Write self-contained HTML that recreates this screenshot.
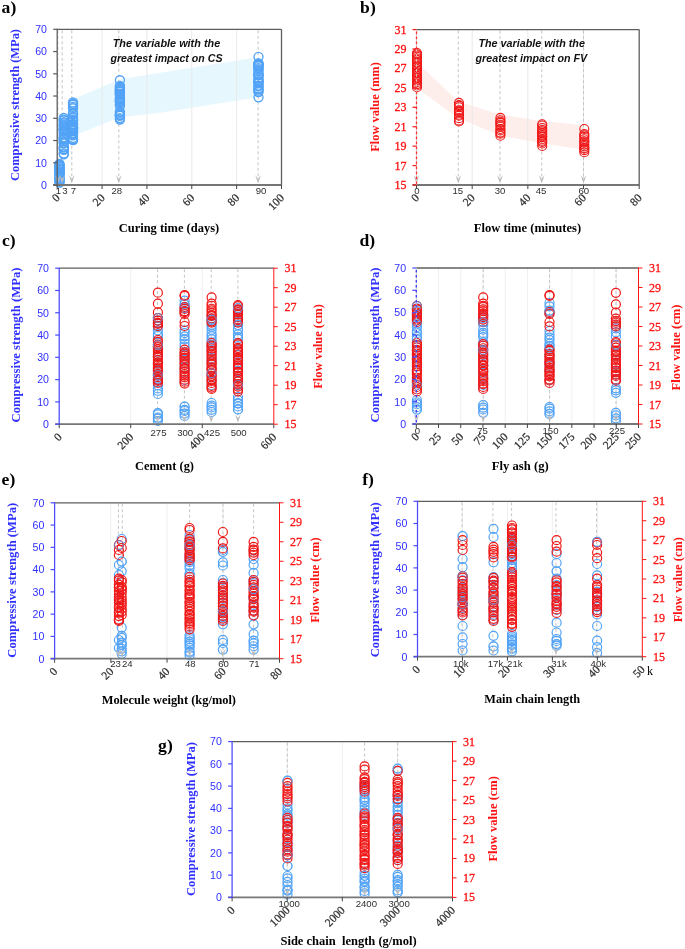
<!DOCTYPE html>
<html><head><meta charset="utf-8"><style>
html,body{margin:0;padding:0;background:#fff;}
body{width:685px;height:949px;overflow:hidden;}
svg{display:block;will-change:transform;}
text{white-space:pre;}
</style></head><body>
<svg width="685" height="949" viewBox="0 0 685 949">
<rect width="685" height="949" fill="#fff"/>
<path d="M72.9 99.36 L120 79.35 L160.38 72.67 L259.07 57.1 L259.07 97.14 L160.38 112.71 L120 117.16 L72.9 136.07 Z" fill="#e6f7fe"/>
<line x1="102.06" y1="29.3" x2="102.06" y2="185" stroke="#e9e9e9" stroke-width="1"/>
<line x1="146.92" y1="29.3" x2="146.92" y2="185" stroke="#e9e9e9" stroke-width="1"/>
<line x1="191.78" y1="29.3" x2="191.78" y2="185" stroke="#e9e9e9" stroke-width="1"/>
<line x1="236.64" y1="29.3" x2="236.64" y2="185" stroke="#e9e9e9" stroke-width="1"/>
<line x1="57.8" y1="30.3" x2="57.8" y2="179" stroke="#c4c4c4" stroke-width="1" stroke-dasharray="3 2.5"/>
<line x1="62.2" y1="30.3" x2="62.2" y2="179" stroke="#c4c4c4" stroke-width="1" stroke-dasharray="3 2.5"/>
<line x1="71.8" y1="30.3" x2="71.8" y2="179" stroke="#c4c4c4" stroke-width="1" stroke-dasharray="3 2.5"/>
<line x1="118.8" y1="30.3" x2="118.8" y2="179" stroke="#c4c4c4" stroke-width="1" stroke-dasharray="3 2.5"/>
<line x1="258.1" y1="30.3" x2="258.1" y2="179" stroke="#c4c4c4" stroke-width="1" stroke-dasharray="3 2.5"/>
<text x="58.3" y="194.2" font-family="'Liberation Sans', sans-serif" font-size="9.6" fill="#2e2e2e" text-anchor="middle">1</text>
<text x="65" y="194.2" font-family="'Liberation Sans', sans-serif" font-size="9.6" fill="#2e2e2e" text-anchor="middle">3</text>
<text x="73.4" y="194.2" font-family="'Liberation Sans', sans-serif" font-size="9.6" fill="#2e2e2e" text-anchor="middle">7</text>
<text x="116.8" y="194.2" font-family="'Liberation Sans', sans-serif" font-size="9.6" fill="#2e2e2e" text-anchor="middle">28</text>
<text x="261" y="194.2" font-family="'Liberation Sans', sans-serif" font-size="9.6" fill="#2e2e2e" text-anchor="middle">90</text>
<g fill="none" stroke="#52a3f7" stroke-width="1.35">
<circle cx="59.5" cy="164" r="4.5"/>
<circle cx="59.5" cy="182.5" r="4.5"/>
<circle cx="59.5" cy="164.74" r="4.5"/>
<circle cx="59.5" cy="165.49" r="4.5"/>
<circle cx="59.5" cy="166.76" r="4.5"/>
<circle cx="59.5" cy="167.18" r="4.5"/>
<circle cx="59.5" cy="168.43" r="4.5"/>
<circle cx="59.5" cy="169.18" r="4.5"/>
<circle cx="59.5" cy="169.82" r="4.5"/>
<circle cx="59.5" cy="171.05" r="4.5"/>
<circle cx="59.5" cy="171.56" r="4.5"/>
<circle cx="59.5" cy="172.76" r="4.5"/>
<circle cx="59.5" cy="173.35" r="4.5"/>
<circle cx="59.5" cy="174.25" r="4.5"/>
<circle cx="59.5" cy="175.39" r="4.5"/>
<circle cx="59.5" cy="176.59" r="4.5"/>
<circle cx="59.5" cy="176.92" r="4.5"/>
<circle cx="59.5" cy="177.88" r="4.5"/>
<circle cx="59.5" cy="179.08" r="4.5"/>
<circle cx="59.5" cy="180.21" r="4.5"/>
<circle cx="59.5" cy="180.8" r="4.5"/>
<circle cx="59.5" cy="181.54" r="4.5"/>
<circle cx="63.8" cy="118" r="4.5"/>
<circle cx="63.8" cy="154.3" r="4.5"/>
<circle cx="63.8" cy="153.44" r="4.5"/>
<circle cx="63.8" cy="119.69" r="4.5"/>
<circle cx="63.8" cy="149.16" r="4.5"/>
<circle cx="63.8" cy="128.51" r="4.5"/>
<circle cx="63.8" cy="123.24" r="4.5"/>
<circle cx="63.8" cy="122.28" r="4.5"/>
<circle cx="63.8" cy="129.2" r="4.5"/>
<circle cx="63.8" cy="147.63" r="4.5"/>
<circle cx="63.8" cy="124.56" r="4.5"/>
<circle cx="63.8" cy="139.11" r="4.5"/>
<circle cx="63.8" cy="141.19" r="4.5"/>
<circle cx="63.8" cy="131.52" r="4.5"/>
<circle cx="63.8" cy="137.88" r="4.5"/>
<circle cx="63.8" cy="120.28" r="4.5"/>
<circle cx="63.8" cy="120.16" r="4.5"/>
<circle cx="63.8" cy="125.48" r="4.5"/>
<circle cx="63.8" cy="142.7" r="4.5"/>
<circle cx="63.8" cy="133.52" r="4.5"/>
<circle cx="63.8" cy="129.4" r="4.5"/>
<circle cx="63.8" cy="139.26" r="4.5"/>
<circle cx="63.8" cy="134.45" r="4.5"/>
<circle cx="63.8" cy="128.88" r="4.5"/>
<circle cx="63.8" cy="146.84" r="4.5"/>
<circle cx="63.8" cy="143.37" r="4.5"/>
<circle cx="63.8" cy="126.86" r="4.5"/>
<circle cx="63.8" cy="138.85" r="4.5"/>
<circle cx="63.8" cy="137.06" r="4.5"/>
<circle cx="63.8" cy="149.77" r="4.5"/>
<circle cx="73" cy="102.5" r="4.5"/>
<circle cx="73" cy="140" r="4.5"/>
<circle cx="73" cy="129.85" r="4.5"/>
<circle cx="73" cy="113.3" r="4.5"/>
<circle cx="73" cy="139.26" r="4.5"/>
<circle cx="73" cy="106.93" r="4.5"/>
<circle cx="73" cy="118.18" r="4.5"/>
<circle cx="73" cy="130.89" r="4.5"/>
<circle cx="73" cy="108.2" r="4.5"/>
<circle cx="73" cy="120.84" r="4.5"/>
<circle cx="73" cy="103.97" r="4.5"/>
<circle cx="73" cy="127.56" r="4.5"/>
<circle cx="73" cy="131.17" r="4.5"/>
<circle cx="73" cy="123.99" r="4.5"/>
<circle cx="73" cy="135.33" r="4.5"/>
<circle cx="73" cy="114.27" r="4.5"/>
<circle cx="73" cy="128.57" r="4.5"/>
<circle cx="73" cy="124.79" r="4.5"/>
<circle cx="73" cy="124.25" r="4.5"/>
<circle cx="73" cy="119.61" r="4.5"/>
<circle cx="73" cy="134" r="4.5"/>
<circle cx="73" cy="137.93" r="4.5"/>
<circle cx="73" cy="120.28" r="4.5"/>
<circle cx="73" cy="127.41" r="4.5"/>
<circle cx="73" cy="104.78" r="4.5"/>
<circle cx="73" cy="128.81" r="4.5"/>
<circle cx="73" cy="126.77" r="4.5"/>
<circle cx="73" cy="139.74" r="4.5"/>
<circle cx="73" cy="133.32" r="4.5"/>
<circle cx="73" cy="113.17" r="4.5"/>
<circle cx="73" cy="116.97" r="4.5"/>
<circle cx="73" cy="127.57" r="4.5"/>
<circle cx="119.9" cy="80.2" r="4.5"/>
<circle cx="119.9" cy="86" r="4.5"/>
<circle cx="119.9" cy="119.5" r="4.5"/>
<circle cx="119.9" cy="86.76" r="4.5"/>
<circle cx="119.9" cy="101.47" r="4.5"/>
<circle cx="119.9" cy="91.63" r="4.5"/>
<circle cx="119.9" cy="89.92" r="4.5"/>
<circle cx="119.9" cy="87.97" r="4.5"/>
<circle cx="119.9" cy="111.74" r="4.5"/>
<circle cx="119.9" cy="90.33" r="4.5"/>
<circle cx="119.9" cy="94.3" r="4.5"/>
<circle cx="119.9" cy="99.1" r="4.5"/>
<circle cx="119.9" cy="115.19" r="4.5"/>
<circle cx="119.9" cy="88.7" r="4.5"/>
<circle cx="119.9" cy="101.05" r="4.5"/>
<circle cx="119.9" cy="104.41" r="4.5"/>
<circle cx="119.9" cy="115.59" r="4.5"/>
<circle cx="119.9" cy="113.45" r="4.5"/>
<circle cx="119.9" cy="114.94" r="4.5"/>
<circle cx="119.9" cy="95.33" r="4.5"/>
<circle cx="119.9" cy="99.91" r="4.5"/>
<circle cx="119.9" cy="98.02" r="4.5"/>
<circle cx="119.9" cy="115.62" r="4.5"/>
<circle cx="119.9" cy="118.08" r="4.5"/>
<circle cx="119.9" cy="91.06" r="4.5"/>
<circle cx="119.9" cy="91.9" r="4.5"/>
<circle cx="119.9" cy="93.77" r="4.5"/>
<circle cx="119.9" cy="93.82" r="4.5"/>
<circle cx="119.9" cy="102.25" r="4.5"/>
<circle cx="119.9" cy="105.74" r="4.5"/>
<circle cx="258.5" cy="56.8" r="4.5"/>
<circle cx="258.5" cy="63.5" r="4.5"/>
<circle cx="258.5" cy="92" r="4.5"/>
<circle cx="258.5" cy="70.99" r="4.5"/>
<circle cx="258.5" cy="63.62" r="4.5"/>
<circle cx="258.5" cy="75.44" r="4.5"/>
<circle cx="258.5" cy="74.02" r="4.5"/>
<circle cx="258.5" cy="79.64" r="4.5"/>
<circle cx="258.5" cy="90.66" r="4.5"/>
<circle cx="258.5" cy="83.18" r="4.5"/>
<circle cx="258.5" cy="78.19" r="4.5"/>
<circle cx="258.5" cy="81.1" r="4.5"/>
<circle cx="258.5" cy="82.77" r="4.5"/>
<circle cx="258.5" cy="65.04" r="4.5"/>
<circle cx="258.5" cy="89.14" r="4.5"/>
<circle cx="258.5" cy="85.73" r="4.5"/>
<circle cx="258.5" cy="88.42" r="4.5"/>
<circle cx="258.5" cy="86.24" r="4.5"/>
<circle cx="258.5" cy="74.68" r="4.5"/>
<circle cx="258.5" cy="74.87" r="4.5"/>
<circle cx="258.5" cy="66.45" r="4.5"/>
<circle cx="258.5" cy="81.58" r="4.5"/>
<circle cx="258.5" cy="65.27" r="4.5"/>
<circle cx="258.5" cy="65.42" r="4.5"/>
<circle cx="258.5" cy="69.45" r="4.5"/>
<circle cx="258.5" cy="68.13" r="4.5"/>
<circle cx="258.5" cy="97.3" r="4.5"/>
</g>
<path d="M54.9 175L57.8 178.7L60.7 175L57.8 183.5Z" fill="#bdbdbd"/>
<path d="M59.3 175L62.2 178.7L65.1 175L62.2 183.5Z" fill="#bdbdbd"/>
<path d="M68.9 175L71.8 178.7L74.7 175L71.8 183.5Z" fill="#bdbdbd"/>
<path d="M115.9 175L118.8 178.7L121.7 175L118.8 183.5Z" fill="#bdbdbd"/>
<path d="M255.2 175L258.1 178.7L261 175L258.1 183.5Z" fill="#bdbdbd"/>
<line x1="57.2" y1="29.3" x2="281.5" y2="29.3" stroke="#5e5e5e" stroke-width="1.3"/>
<line x1="281.5" y1="29.3" x2="281.5" y2="185" stroke="#5e5e5e" stroke-width="1.3"/>
<line x1="53.2" y1="185" x2="281.5" y2="185" stroke="#767676" stroke-width="1.8"/>
<line x1="57.2" y1="185" x2="57.2" y2="189" stroke="#444444" stroke-width="1"/>
<line x1="102.06" y1="185" x2="102.06" y2="189" stroke="#444444" stroke-width="1"/>
<line x1="146.92" y1="185" x2="146.92" y2="189" stroke="#444444" stroke-width="1"/>
<line x1="191.78" y1="185" x2="191.78" y2="189" stroke="#444444" stroke-width="1"/>
<line x1="236.64" y1="185" x2="236.64" y2="189" stroke="#444444" stroke-width="1"/>
<line x1="281.5" y1="185" x2="281.5" y2="189" stroke="#444444" stroke-width="1"/>
<text x="60.6" y="198.5" font-family="'Liberation Serif', serif" font-size="11.5" fill="#2e2e2e" text-anchor="end" transform="rotate(-45 60.6 198.5)" stroke="#2e2e2e" stroke-width="0.25">0</text>
<text x="105.46" y="198.5" font-family="'Liberation Serif', serif" font-size="11.5" fill="#2e2e2e" text-anchor="end" transform="rotate(-45 105.46 198.5)" stroke="#2e2e2e" stroke-width="0.25">20</text>
<text x="150.32" y="198.5" font-family="'Liberation Serif', serif" font-size="11.5" fill="#2e2e2e" text-anchor="end" transform="rotate(-45 150.32 198.5)" stroke="#2e2e2e" stroke-width="0.25">40</text>
<text x="195.18" y="198.5" font-family="'Liberation Serif', serif" font-size="11.5" fill="#2e2e2e" text-anchor="end" transform="rotate(-45 195.18 198.5)" stroke="#2e2e2e" stroke-width="0.25">60</text>
<text x="240.04" y="198.5" font-family="'Liberation Serif', serif" font-size="11.5" fill="#2e2e2e" text-anchor="end" transform="rotate(-45 240.04 198.5)" stroke="#2e2e2e" stroke-width="0.25">80</text>
<text x="284.9" y="198.5" font-family="'Liberation Serif', serif" font-size="11.5" fill="#2e2e2e" text-anchor="end" transform="rotate(-45 284.9 198.5)" stroke="#2e2e2e" stroke-width="0.25">100</text>
<line x1="57.2" y1="28.8" x2="57.2" y2="185" stroke="#5a5a5a" stroke-width="1.25"/>
<line x1="53.2" y1="185" x2="57.2" y2="185" stroke="#5a5a5a" stroke-width="1.2"/>
<text x="47" y="188.8" font-family="'Liberation Sans', sans-serif" font-size="10.6" fill="#3030ff" text-anchor="end">0</text>
<line x1="53.2" y1="162.76" x2="57.2" y2="162.76" stroke="#5a5a5a" stroke-width="1.2"/>
<text x="47" y="166.56" font-family="'Liberation Sans', sans-serif" font-size="10.6" fill="#3030ff" text-anchor="end">10</text>
<line x1="53.2" y1="140.51" x2="57.2" y2="140.51" stroke="#5a5a5a" stroke-width="1.2"/>
<text x="47" y="144.31" font-family="'Liberation Sans', sans-serif" font-size="10.6" fill="#3030ff" text-anchor="end">20</text>
<line x1="53.2" y1="118.27" x2="57.2" y2="118.27" stroke="#5a5a5a" stroke-width="1.2"/>
<text x="47" y="122.07" font-family="'Liberation Sans', sans-serif" font-size="10.6" fill="#3030ff" text-anchor="end">30</text>
<line x1="53.2" y1="96.03" x2="57.2" y2="96.03" stroke="#5a5a5a" stroke-width="1.2"/>
<text x="47" y="99.83" font-family="'Liberation Sans', sans-serif" font-size="10.6" fill="#3030ff" text-anchor="end">40</text>
<line x1="53.2" y1="73.79" x2="57.2" y2="73.79" stroke="#5a5a5a" stroke-width="1.2"/>
<text x="47" y="77.59" font-family="'Liberation Sans', sans-serif" font-size="10.6" fill="#3030ff" text-anchor="end">50</text>
<line x1="53.2" y1="51.54" x2="57.2" y2="51.54" stroke="#5a5a5a" stroke-width="1.2"/>
<text x="47" y="55.34" font-family="'Liberation Sans', sans-serif" font-size="10.6" fill="#3030ff" text-anchor="end">60</text>
<line x1="53.2" y1="29.3" x2="57.2" y2="29.3" stroke="#5a5a5a" stroke-width="1.2"/>
<text x="47" y="33.1" font-family="'Liberation Sans', sans-serif" font-size="10.6" fill="#3030ff" text-anchor="end">70</text>
<text x="112.7" y="46.6" font-family="'Liberation Sans', sans-serif" font-size="11.3" fill="#111" font-weight="bold" font-style="italic" textLength="107.5" lengthAdjust="spacingAndGlyphs">The variable with the</text>
<text x="110.5" y="61.5" font-family="'Liberation Sans', sans-serif" font-size="11.3" fill="#111" font-weight="bold" font-style="italic" textLength="112" lengthAdjust="spacingAndGlyphs">greatest impact on CS</text>
<text x="18.6" y="105" font-family="'Liberation Serif', serif" font-size="12.5" fill="#3030ff" text-anchor="middle" font-weight="bold" transform="rotate(-90 18.6 105)" textLength="152" lengthAdjust="spacingAndGlyphs">Compressive strength (MPa)</text>
<text x="168.95" y="231.7" font-family="'Liberation Serif', serif" font-size="12.5" fill="#000" text-anchor="middle" font-weight="bold" textLength="100.5" lengthAdjust="spacingAndGlyphs">Curing time (days)</text>
<text x="1.6" y="12.6" font-family="'Liberation Serif', serif" font-size="17.6" fill="#000" font-weight="bold">a)</text>
<path d="M416.5 61.65 L458.26 101.47 L500.01 114.58 L541.77 120.9 L583.53 125.27 L583.53 149.55 L541.77 143.24 L500.01 135.47 L458.26 117.98 L416.5 87.88 Z" fill="#fdeeeb"/>
<line x1="472.18" y1="29.6" x2="472.18" y2="185" stroke="#e9e9e9" stroke-width="1"/>
<line x1="527.85" y1="29.6" x2="527.85" y2="185" stroke="#e9e9e9" stroke-width="1"/>
<line x1="583.53" y1="29.6" x2="583.53" y2="185" stroke="#e9e9e9" stroke-width="1"/>
<line x1="416.5" y1="30.6" x2="416.5" y2="179" stroke="#c4c4c4" stroke-width="1" stroke-dasharray="3 2.5"/>
<line x1="458.26" y1="30.6" x2="458.26" y2="179" stroke="#c4c4c4" stroke-width="1" stroke-dasharray="3 2.5"/>
<line x1="500.01" y1="30.6" x2="500.01" y2="179" stroke="#c4c4c4" stroke-width="1" stroke-dasharray="3 2.5"/>
<line x1="541.77" y1="30.6" x2="541.77" y2="179" stroke="#c4c4c4" stroke-width="1" stroke-dasharray="3 2.5"/>
<line x1="583.53" y1="30.6" x2="583.53" y2="179" stroke="#c4c4c4" stroke-width="1" stroke-dasharray="3 2.5"/>
<text x="416.9" y="194" font-family="'Liberation Sans', sans-serif" font-size="9.6" fill="#2e2e2e" text-anchor="middle">0</text>
<text x="457.8" y="194" font-family="'Liberation Sans', sans-serif" font-size="9.6" fill="#2e2e2e" text-anchor="middle">15</text>
<text x="500" y="194" font-family="'Liberation Sans', sans-serif" font-size="9.6" fill="#2e2e2e" text-anchor="middle">30</text>
<text x="541" y="194" font-family="'Liberation Sans', sans-serif" font-size="9.6" fill="#2e2e2e" text-anchor="middle">45</text>
<text x="583.8" y="194" font-family="'Liberation Sans', sans-serif" font-size="9.6" fill="#2e2e2e" text-anchor="middle">60</text>
<g fill="none" stroke="#f01818" stroke-width="1.1">
<circle cx="417" cy="53" r="4.5"/>
<circle cx="417" cy="87.3" r="4.5"/>
<circle cx="417" cy="54.28" r="4.5"/>
<circle cx="417" cy="55.38" r="4.5"/>
<circle cx="417" cy="56.8" r="4.5"/>
<circle cx="417" cy="58.5" r="4.5"/>
<circle cx="417" cy="59.92" r="4.5"/>
<circle cx="417" cy="61.76" r="4.5"/>
<circle cx="417" cy="62.8" r="4.5"/>
<circle cx="417" cy="65.43" r="4.5"/>
<circle cx="417" cy="66.57" r="4.5"/>
<circle cx="417" cy="67.44" r="4.5"/>
<circle cx="417" cy="69.07" r="4.5"/>
<circle cx="417" cy="70.69" r="4.5"/>
<circle cx="417" cy="72.2" r="4.5"/>
<circle cx="417" cy="73.37" r="4.5"/>
<circle cx="417" cy="75.84" r="4.5"/>
<circle cx="417" cy="77.52" r="4.5"/>
<circle cx="417" cy="78.31" r="4.5"/>
<circle cx="417" cy="79.82" r="4.5"/>
<circle cx="417" cy="80.78" r="4.5"/>
<circle cx="417" cy="82.29" r="4.5"/>
<circle cx="417" cy="84.11" r="4.5"/>
<circle cx="417" cy="85.49" r="4.5"/>
<circle cx="459" cy="102.9" r="4.5"/>
<circle cx="459" cy="121.5" r="4.5"/>
<circle cx="459" cy="105.09" r="4.5"/>
<circle cx="459" cy="105.77" r="4.5"/>
<circle cx="459" cy="107.25" r="4.5"/>
<circle cx="459" cy="110.35" r="4.5"/>
<circle cx="459" cy="111.4" r="4.5"/>
<circle cx="459" cy="112.51" r="4.5"/>
<circle cx="459" cy="114.8" r="4.5"/>
<circle cx="459" cy="115.71" r="4.5"/>
<circle cx="459" cy="118.16" r="4.5"/>
<circle cx="459" cy="120.54" r="4.5"/>
<circle cx="500.4" cy="117.9" r="4.5"/>
<circle cx="500.4" cy="135.7" r="4.5"/>
<circle cx="500.4" cy="120.26" r="4.5"/>
<circle cx="500.4" cy="121.77" r="4.5"/>
<circle cx="500.4" cy="122.86" r="4.5"/>
<circle cx="500.4" cy="124.81" r="4.5"/>
<circle cx="500.4" cy="126.27" r="4.5"/>
<circle cx="500.4" cy="129.02" r="4.5"/>
<circle cx="500.4" cy="130.41" r="4.5"/>
<circle cx="500.4" cy="132.59" r="4.5"/>
<circle cx="500.4" cy="133.65" r="4.5"/>
<circle cx="542.2" cy="124.2" r="4.5"/>
<circle cx="542.2" cy="145.9" r="4.5"/>
<circle cx="542.2" cy="125.45" r="4.5"/>
<circle cx="542.2" cy="128.01" r="4.5"/>
<circle cx="542.2" cy="129.94" r="4.5"/>
<circle cx="542.2" cy="131.41" r="4.5"/>
<circle cx="542.2" cy="133.01" r="4.5"/>
<circle cx="542.2" cy="134.69" r="4.5"/>
<circle cx="542.2" cy="136.24" r="4.5"/>
<circle cx="542.2" cy="137.14" r="4.5"/>
<circle cx="542.2" cy="139.25" r="4.5"/>
<circle cx="542.2" cy="140.68" r="4.5"/>
<circle cx="542.2" cy="141.85" r="4.5"/>
<circle cx="542.2" cy="143.52" r="4.5"/>
<circle cx="584.3" cy="129" r="4.5"/>
<circle cx="584.3" cy="134" r="4.5"/>
<circle cx="584.3" cy="152.2" r="4.5"/>
<circle cx="584.3" cy="135.33" r="4.5"/>
<circle cx="584.3" cy="136.95" r="4.5"/>
<circle cx="584.3" cy="139.25" r="4.5"/>
<circle cx="584.3" cy="141.3" r="4.5"/>
<circle cx="584.3" cy="142.19" r="4.5"/>
<circle cx="584.3" cy="144.58" r="4.5"/>
<circle cx="584.3" cy="146.31" r="4.5"/>
<circle cx="584.3" cy="147.91" r="4.5"/>
<circle cx="584.3" cy="148.69" r="4.5"/>
<circle cx="584.3" cy="150.13" r="4.5"/>
</g>
<path d="M413.6 175L416.5 178.7L419.4 175L416.5 183.5Z" fill="#bdbdbd"/>
<path d="M455.36 175L458.26 178.7L461.16 175L458.26 183.5Z" fill="#bdbdbd"/>
<path d="M497.11 175L500.01 178.7L502.91 175L500.01 183.5Z" fill="#bdbdbd"/>
<path d="M538.87 175L541.77 178.7L544.67 175L541.77 183.5Z" fill="#bdbdbd"/>
<path d="M580.63 175L583.53 178.7L586.43 175L583.53 183.5Z" fill="#bdbdbd"/>
<line x1="416.5" y1="29.6" x2="639.2" y2="29.6" stroke="#5e5e5e" stroke-width="1.3"/>
<line x1="639.2" y1="29.6" x2="639.2" y2="185" stroke="#5e5e5e" stroke-width="1.3"/>
<line x1="412.5" y1="185" x2="639.2" y2="185" stroke="#767676" stroke-width="1.8"/>
<line x1="416.5" y1="185" x2="416.5" y2="189" stroke="#444444" stroke-width="1"/>
<line x1="472.18" y1="185" x2="472.18" y2="189" stroke="#444444" stroke-width="1"/>
<line x1="527.85" y1="185" x2="527.85" y2="189" stroke="#444444" stroke-width="1"/>
<line x1="583.53" y1="185" x2="583.53" y2="189" stroke="#444444" stroke-width="1"/>
<line x1="639.2" y1="185" x2="639.2" y2="189" stroke="#444444" stroke-width="1"/>
<text x="419.9" y="198.5" font-family="'Liberation Serif', serif" font-size="11.5" fill="#2e2e2e" text-anchor="end" transform="rotate(-45 419.9 198.5)" stroke="#2e2e2e" stroke-width="0.25">0</text>
<text x="475.57" y="198.5" font-family="'Liberation Serif', serif" font-size="11.5" fill="#2e2e2e" text-anchor="end" transform="rotate(-45 475.57 198.5)" stroke="#2e2e2e" stroke-width="0.25">20</text>
<text x="531.25" y="198.5" font-family="'Liberation Serif', serif" font-size="11.5" fill="#2e2e2e" text-anchor="end" transform="rotate(-45 531.25 198.5)" stroke="#2e2e2e" stroke-width="0.25">40</text>
<text x="586.93" y="198.5" font-family="'Liberation Serif', serif" font-size="11.5" fill="#2e2e2e" text-anchor="end" transform="rotate(-45 586.93 198.5)" stroke="#2e2e2e" stroke-width="0.25">60</text>
<text x="642.6" y="198.5" font-family="'Liberation Serif', serif" font-size="11.5" fill="#2e2e2e" text-anchor="end" transform="rotate(-45 642.6 198.5)" stroke="#2e2e2e" stroke-width="0.25">80</text>
<line x1="416.5" y1="29.6" x2="416.5" y2="185" stroke="#d4d4d4" stroke-width="1"/>
<line x1="416.5" y1="31.6" x2="416.5" y2="185" stroke="#ff3030" stroke-width="1.3" stroke-dasharray="2.6 2.4"/>
<line x1="412.5" y1="185" x2="416.5" y2="185" stroke="#ff1414" stroke-width="1.2"/>
<text x="406.5" y="189" font-family="'Liberation Serif', serif" font-size="12" fill="#ff1414" text-anchor="end" stroke="#ff1414" stroke-width="0.3">15</text>
<line x1="412.5" y1="165.57" x2="416.5" y2="165.57" stroke="#ff1414" stroke-width="1.2"/>
<text x="406.5" y="169.57" font-family="'Liberation Serif', serif" font-size="12" fill="#ff1414" text-anchor="end" stroke="#ff1414" stroke-width="0.3">17</text>
<line x1="412.5" y1="146.15" x2="416.5" y2="146.15" stroke="#ff1414" stroke-width="1.2"/>
<text x="406.5" y="150.15" font-family="'Liberation Serif', serif" font-size="12" fill="#ff1414" text-anchor="end" stroke="#ff1414" stroke-width="0.3">19</text>
<line x1="412.5" y1="126.72" x2="416.5" y2="126.72" stroke="#ff1414" stroke-width="1.2"/>
<text x="406.5" y="130.72" font-family="'Liberation Serif', serif" font-size="12" fill="#ff1414" text-anchor="end" stroke="#ff1414" stroke-width="0.3">21</text>
<line x1="412.5" y1="107.3" x2="416.5" y2="107.3" stroke="#ff1414" stroke-width="1.2"/>
<text x="406.5" y="111.3" font-family="'Liberation Serif', serif" font-size="12" fill="#ff1414" text-anchor="end" stroke="#ff1414" stroke-width="0.3">23</text>
<line x1="412.5" y1="87.88" x2="416.5" y2="87.88" stroke="#ff1414" stroke-width="1.2"/>
<text x="406.5" y="91.88" font-family="'Liberation Serif', serif" font-size="12" fill="#ff1414" text-anchor="end" stroke="#ff1414" stroke-width="0.3">25</text>
<line x1="412.5" y1="68.45" x2="416.5" y2="68.45" stroke="#ff1414" stroke-width="1.2"/>
<text x="406.5" y="72.45" font-family="'Liberation Serif', serif" font-size="12" fill="#ff1414" text-anchor="end" stroke="#ff1414" stroke-width="0.3">27</text>
<line x1="412.5" y1="49.03" x2="416.5" y2="49.03" stroke="#ff1414" stroke-width="1.2"/>
<text x="406.5" y="53.03" font-family="'Liberation Serif', serif" font-size="12" fill="#ff1414" text-anchor="end" stroke="#ff1414" stroke-width="0.3">29</text>
<line x1="412.5" y1="29.6" x2="416.5" y2="29.6" stroke="#ff1414" stroke-width="1.2"/>
<text x="406.5" y="33.6" font-family="'Liberation Serif', serif" font-size="12" fill="#ff1414" text-anchor="end" stroke="#ff1414" stroke-width="0.3">31</text>
<text x="478.4" y="47.1" font-family="'Liberation Sans', sans-serif" font-size="11.3" fill="#111" font-weight="bold" font-style="italic" textLength="106.5" lengthAdjust="spacingAndGlyphs">The variable with the</text>
<text x="475.6" y="61.8" font-family="'Liberation Sans', sans-serif" font-size="11.3" fill="#111" font-weight="bold" font-style="italic" textLength="111.6" lengthAdjust="spacingAndGlyphs">greatest impact on FV</text>
<text x="379.3" y="107" font-family="'Liberation Serif', serif" font-size="12.5" fill="#ff1414" text-anchor="middle" font-weight="bold" transform="rotate(-90 379.3 107)" textLength="89.7" lengthAdjust="spacingAndGlyphs">Flow value (mm)</text>
<text x="527.45" y="232.3" font-family="'Liberation Serif', serif" font-size="12.5" fill="#000" text-anchor="middle" font-weight="bold" textLength="107.3" lengthAdjust="spacingAndGlyphs">Flow time (minutes)</text>
<text x="360.1" y="12.6" font-family="'Liberation Serif', serif" font-size="17.6" fill="#000" font-weight="bold">b)</text>
<line x1="130.73" y1="268.2" x2="130.73" y2="424.2" stroke="#efefef" stroke-width="1"/>
<line x1="202.27" y1="268.2" x2="202.27" y2="424.2" stroke="#efefef" stroke-width="1"/>
<line x1="157.5" y1="269.2" x2="157.5" y2="418.2" stroke="#c4c4c4" stroke-width="1" stroke-dasharray="3 2.5"/>
<line x1="184.4" y1="269.2" x2="184.4" y2="418.2" stroke="#c4c4c4" stroke-width="1" stroke-dasharray="3 2.5"/>
<line x1="211.2" y1="269.2" x2="211.2" y2="418.2" stroke="#c4c4c4" stroke-width="1" stroke-dasharray="3 2.5"/>
<line x1="237.9" y1="269.2" x2="237.9" y2="418.2" stroke="#c4c4c4" stroke-width="1" stroke-dasharray="3 2.5"/>
<text x="158.5" y="436" font-family="'Liberation Sans', sans-serif" font-size="9.6" fill="#2e2e2e" text-anchor="middle">275</text>
<text x="185.2" y="436" font-family="'Liberation Sans', sans-serif" font-size="9.6" fill="#2e2e2e" text-anchor="middle">300</text>
<text x="212" y="436" font-family="'Liberation Sans', sans-serif" font-size="9.6" fill="#2e2e2e" text-anchor="middle">425</text>
<text x="238.7" y="436" font-family="'Liberation Sans', sans-serif" font-size="9.6" fill="#2e2e2e" text-anchor="middle">500</text>
<g fill="none" stroke="#52a3f7" stroke-width="1.2">
<circle cx="157.9" cy="318" r="4.5"/>
<circle cx="157.9" cy="336" r="4.5"/>
<circle cx="157.9" cy="320.26" r="4.5"/>
<circle cx="157.9" cy="323.18" r="4.5"/>
<circle cx="157.9" cy="326.2" r="4.5"/>
<circle cx="157.9" cy="330.33" r="4.5"/>
<circle cx="157.9" cy="334.08" r="4.5"/>
<circle cx="157.9" cy="345" r="4.5"/>
<circle cx="157.9" cy="380" r="4.5"/>
<circle cx="157.9" cy="352.62" r="4.5"/>
<circle cx="157.9" cy="356.56" r="4.5"/>
<circle cx="157.9" cy="363.3" r="4.5"/>
<circle cx="157.9" cy="369.91" r="4.5"/>
<circle cx="157.9" cy="371.99" r="4.5"/>
<circle cx="157.9" cy="375" r="4.5"/>
<circle cx="157.9" cy="394" r="4.5"/>
<circle cx="157.9" cy="378.62" r="4.5"/>
<circle cx="157.9" cy="382.5" r="4.5"/>
<circle cx="157.9" cy="385.3" r="4.5"/>
<circle cx="157.9" cy="388.38" r="4.5"/>
<circle cx="157.9" cy="390.77" r="4.5"/>
<circle cx="157.9" cy="413" r="4.5"/>
<circle cx="157.9" cy="421" r="4.5"/>
<circle cx="157.9" cy="414.42" r="4.5"/>
<circle cx="157.9" cy="417.52" r="4.5"/>
<circle cx="157.9" cy="418.7" r="4.5"/>
<circle cx="184.6" cy="300.6" r="4.5"/>
<circle cx="184.6" cy="311.6" r="4.5"/>
<circle cx="184.6" cy="304.27" r="4.5"/>
<circle cx="184.6" cy="306.91" r="4.5"/>
<circle cx="184.6" cy="308.13" r="4.5"/>
<circle cx="184.6" cy="330.6" r="4.5"/>
<circle cx="184.6" cy="346.5" r="4.5"/>
<circle cx="184.6" cy="333.07" r="4.5"/>
<circle cx="184.6" cy="336.37" r="4.5"/>
<circle cx="184.6" cy="339.4" r="4.5"/>
<circle cx="184.6" cy="343.57" r="4.5"/>
<circle cx="184.6" cy="355" r="4.5"/>
<circle cx="184.6" cy="380" r="4.5"/>
<circle cx="184.6" cy="359.9" r="4.5"/>
<circle cx="184.6" cy="367.04" r="4.5"/>
<circle cx="184.6" cy="371.67" r="4.5"/>
<circle cx="184.6" cy="406.6" r="4.5"/>
<circle cx="184.6" cy="416" r="4.5"/>
<circle cx="184.6" cy="409.82" r="4.5"/>
<circle cx="184.6" cy="410.99" r="4.5"/>
<circle cx="184.6" cy="413.56" r="4.5"/>
<circle cx="211.6" cy="316" r="4.5"/>
<circle cx="211.6" cy="344.7" r="4.5"/>
<circle cx="211.6" cy="319.6" r="4.5"/>
<circle cx="211.6" cy="320.72" r="4.5"/>
<circle cx="211.6" cy="324.77" r="4.5"/>
<circle cx="211.6" cy="326.83" r="4.5"/>
<circle cx="211.6" cy="329.77" r="4.5"/>
<circle cx="211.6" cy="333.92" r="4.5"/>
<circle cx="211.6" cy="336.11" r="4.5"/>
<circle cx="211.6" cy="339.12" r="4.5"/>
<circle cx="211.6" cy="342.5" r="4.5"/>
<circle cx="211.6" cy="350" r="4.5"/>
<circle cx="211.6" cy="385" r="4.5"/>
<circle cx="211.6" cy="358" r="4.5"/>
<circle cx="211.6" cy="361.37" r="4.5"/>
<circle cx="211.6" cy="368.09" r="4.5"/>
<circle cx="211.6" cy="373.36" r="4.5"/>
<circle cx="211.6" cy="379.23" r="4.5"/>
<circle cx="211.6" cy="403" r="4.5"/>
<circle cx="211.6" cy="412" r="4.5"/>
<circle cx="211.6" cy="405.64" r="4.5"/>
<circle cx="211.6" cy="407.4" r="4.5"/>
<circle cx="211.6" cy="409.82" r="4.5"/>
<circle cx="238" cy="308" r="4.5"/>
<circle cx="238" cy="343" r="4.5"/>
<circle cx="238" cy="310.03" r="4.5"/>
<circle cx="238" cy="313.65" r="4.5"/>
<circle cx="238" cy="316.79" r="4.5"/>
<circle cx="238" cy="319.24" r="4.5"/>
<circle cx="238" cy="321.78" r="4.5"/>
<circle cx="238" cy="325.02" r="4.5"/>
<circle cx="238" cy="329" r="4.5"/>
<circle cx="238" cy="330.07" r="4.5"/>
<circle cx="238" cy="334.39" r="4.5"/>
<circle cx="238" cy="337.01" r="4.5"/>
<circle cx="238" cy="338.82" r="4.5"/>
<circle cx="238" cy="350" r="4.5"/>
<circle cx="238" cy="385" r="4.5"/>
<circle cx="238" cy="354.95" r="4.5"/>
<circle cx="238" cy="362.32" r="4.5"/>
<circle cx="238" cy="367.56" r="4.5"/>
<circle cx="238" cy="371.05" r="4.5"/>
<circle cx="238" cy="381.71" r="4.5"/>
<circle cx="238" cy="397" r="4.5"/>
<circle cx="238" cy="409.5" r="4.5"/>
<circle cx="238" cy="400.15" r="4.5"/>
<circle cx="238" cy="403.06" r="4.5"/>
<circle cx="238" cy="403.61" r="4.5"/>
<circle cx="238" cy="406.47" r="4.5"/>
</g>
<g fill="none" stroke="#f01818" stroke-width="1.2">
<circle cx="157.9" cy="292.7" r="4.5"/>
<circle cx="157.9" cy="303.7" r="4.5"/>
<circle cx="157.9" cy="312.4" r="4.5"/>
<circle cx="157.9" cy="318" r="4.5"/>
<circle cx="157.9" cy="326" r="4.5"/>
<circle cx="157.9" cy="320.54" r="4.5"/>
<circle cx="157.9" cy="322.85" r="4.5"/>
<circle cx="157.9" cy="323.81" r="4.5"/>
<circle cx="157.9" cy="340" r="4.5"/>
<circle cx="157.9" cy="383" r="4.5"/>
<circle cx="157.9" cy="341.78" r="4.5"/>
<circle cx="157.9" cy="344.7" r="4.5"/>
<circle cx="157.9" cy="346.26" r="4.5"/>
<circle cx="157.9" cy="347.24" r="4.5"/>
<circle cx="157.9" cy="349.12" r="4.5"/>
<circle cx="157.9" cy="351.11" r="4.5"/>
<circle cx="157.9" cy="354.39" r="4.5"/>
<circle cx="157.9" cy="356.18" r="4.5"/>
<circle cx="157.9" cy="356.97" r="4.5"/>
<circle cx="157.9" cy="360.12" r="4.5"/>
<circle cx="157.9" cy="362.34" r="4.5"/>
<circle cx="157.9" cy="363.73" r="4.5"/>
<circle cx="157.9" cy="365.15" r="4.5"/>
<circle cx="157.9" cy="367.45" r="4.5"/>
<circle cx="157.9" cy="368.67" r="4.5"/>
<circle cx="157.9" cy="370.42" r="4.5"/>
<circle cx="157.9" cy="374.06" r="4.5"/>
<circle cx="157.9" cy="375.45" r="4.5"/>
<circle cx="157.9" cy="377.18" r="4.5"/>
<circle cx="157.9" cy="379.85" r="4.5"/>
<circle cx="157.9" cy="380.93" r="4.5"/>
<circle cx="184.6" cy="295" r="4.5"/>
<circle cx="184.6" cy="295.8" r="4.5"/>
<circle cx="184.6" cy="307" r="4.5"/>
<circle cx="184.6" cy="314" r="4.5"/>
<circle cx="184.6" cy="308.88" r="4.5"/>
<circle cx="184.6" cy="311.14" r="4.5"/>
<circle cx="184.6" cy="312.12" r="4.5"/>
<circle cx="184.6" cy="322" r="4.5"/>
<circle cx="184.6" cy="326" r="4.5"/>
<circle cx="184.6" cy="349.6" r="4.5"/>
<circle cx="184.6" cy="383.6" r="4.5"/>
<circle cx="184.6" cy="352.35" r="4.5"/>
<circle cx="184.6" cy="353.6" r="4.5"/>
<circle cx="184.6" cy="355.66" r="4.5"/>
<circle cx="184.6" cy="357.64" r="4.5"/>
<circle cx="184.6" cy="358.73" r="4.5"/>
<circle cx="184.6" cy="361.49" r="4.5"/>
<circle cx="184.6" cy="363.03" r="4.5"/>
<circle cx="184.6" cy="364.71" r="4.5"/>
<circle cx="184.6" cy="368.14" r="4.5"/>
<circle cx="184.6" cy="369.01" r="4.5"/>
<circle cx="184.6" cy="371.55" r="4.5"/>
<circle cx="184.6" cy="374.01" r="4.5"/>
<circle cx="184.6" cy="375.7" r="4.5"/>
<circle cx="184.6" cy="377.29" r="4.5"/>
<circle cx="184.6" cy="379.63" r="4.5"/>
<circle cx="184.6" cy="381.7" r="4.5"/>
<circle cx="211.6" cy="297.4" r="4.5"/>
<circle cx="211.6" cy="303.7" r="4.5"/>
<circle cx="211.6" cy="322.6" r="4.5"/>
<circle cx="211.6" cy="305.76" r="4.5"/>
<circle cx="211.6" cy="308.73" r="4.5"/>
<circle cx="211.6" cy="310.38" r="4.5"/>
<circle cx="211.6" cy="312.81" r="4.5"/>
<circle cx="211.6" cy="315.04" r="4.5"/>
<circle cx="211.6" cy="315.85" r="4.5"/>
<circle cx="211.6" cy="318.51" r="4.5"/>
<circle cx="211.6" cy="321.34" r="4.5"/>
<circle cx="211.6" cy="343" r="4.5"/>
<circle cx="211.6" cy="389" r="4.5"/>
<circle cx="211.6" cy="345.61" r="4.5"/>
<circle cx="211.6" cy="346.35" r="4.5"/>
<circle cx="211.6" cy="348.32" r="4.5"/>
<circle cx="211.6" cy="350.9" r="4.5"/>
<circle cx="211.6" cy="352.23" r="4.5"/>
<circle cx="211.6" cy="354.53" r="4.5"/>
<circle cx="211.6" cy="356.23" r="4.5"/>
<circle cx="211.6" cy="359.31" r="4.5"/>
<circle cx="211.6" cy="361.51" r="4.5"/>
<circle cx="211.6" cy="363.71" r="4.5"/>
<circle cx="211.6" cy="364.38" r="4.5"/>
<circle cx="211.6" cy="367.39" r="4.5"/>
<circle cx="211.6" cy="369.29" r="4.5"/>
<circle cx="211.6" cy="370.36" r="4.5"/>
<circle cx="211.6" cy="373.69" r="4.5"/>
<circle cx="211.6" cy="375.84" r="4.5"/>
<circle cx="211.6" cy="376.5" r="4.5"/>
<circle cx="211.6" cy="379.81" r="4.5"/>
<circle cx="211.6" cy="380.82" r="4.5"/>
<circle cx="211.6" cy="382.98" r="4.5"/>
<circle cx="211.6" cy="385.88" r="4.5"/>
<circle cx="211.6" cy="387.6" r="4.5"/>
<circle cx="238" cy="305" r="4.5"/>
<circle cx="238" cy="322.6" r="4.5"/>
<circle cx="238" cy="306.15" r="4.5"/>
<circle cx="238" cy="309.4" r="4.5"/>
<circle cx="238" cy="310.46" r="4.5"/>
<circle cx="238" cy="312.17" r="4.5"/>
<circle cx="238" cy="314.64" r="4.5"/>
<circle cx="238" cy="317.46" r="4.5"/>
<circle cx="238" cy="319.25" r="4.5"/>
<circle cx="238" cy="320.22" r="4.5"/>
<circle cx="238" cy="343" r="4.5"/>
<circle cx="238" cy="391.3" r="4.5"/>
<circle cx="238" cy="344.38" r="4.5"/>
<circle cx="238" cy="347.78" r="4.5"/>
<circle cx="238" cy="349.17" r="4.5"/>
<circle cx="238" cy="351.41" r="4.5"/>
<circle cx="238" cy="352.32" r="4.5"/>
<circle cx="238" cy="354.27" r="4.5"/>
<circle cx="238" cy="357.43" r="4.5"/>
<circle cx="238" cy="358.96" r="4.5"/>
<circle cx="238" cy="360.34" r="4.5"/>
<circle cx="238" cy="363.92" r="4.5"/>
<circle cx="238" cy="365.38" r="4.5"/>
<circle cx="238" cy="367.7" r="4.5"/>
<circle cx="238" cy="368.41" r="4.5"/>
<circle cx="238" cy="371.82" r="4.5"/>
<circle cx="238" cy="372.4" r="4.5"/>
<circle cx="238" cy="375.86" r="4.5"/>
<circle cx="238" cy="377.13" r="4.5"/>
<circle cx="238" cy="378.93" r="4.5"/>
<circle cx="238" cy="381.33" r="4.5"/>
<circle cx="238" cy="384.02" r="4.5"/>
<circle cx="238" cy="384.84" r="4.5"/>
<circle cx="238" cy="386.6" r="4.5"/>
<circle cx="238" cy="389.34" r="4.5"/>
</g>
<g fill="none" stroke="#52a3f7" stroke-width="0.7">
<circle cx="157.9" cy="318" r="4.5"/>
<circle cx="157.9" cy="345" r="4.5"/>
<circle cx="157.9" cy="375" r="4.5"/>
<circle cx="157.9" cy="413" r="4.5"/>
<circle cx="184.6" cy="304.27" r="4.5"/>
<circle cx="184.6" cy="339.4" r="4.5"/>
<circle cx="184.6" cy="406.6" r="4.5"/>
<circle cx="211.6" cy="319.6" r="4.5"/>
<circle cx="211.6" cy="339.12" r="4.5"/>
<circle cx="211.6" cy="373.36" r="4.5"/>
<circle cx="238" cy="308" r="4.5"/>
<circle cx="238" cy="325.02" r="4.5"/>
<circle cx="238" cy="385" r="4.5"/>
<circle cx="238" cy="409.5" r="4.5"/>
</g>
<path d="M154.6 414.2L157.5 417.9L160.4 414.2L157.5 422.7Z" fill="#bdbdbd"/>
<path d="M181.5 414.2L184.4 417.9L187.3 414.2L184.4 422.7Z" fill="#bdbdbd"/>
<path d="M208.3 414.2L211.2 417.9L214.1 414.2L211.2 422.7Z" fill="#bdbdbd"/>
<path d="M235 414.2L237.9 417.9L240.8 414.2L237.9 422.7Z" fill="#bdbdbd"/>
<line x1="59.2" y1="268.2" x2="273.8" y2="268.2" stroke="#5e5e5e" stroke-width="1.3"/>
<line x1="55.2" y1="424.2" x2="273.8" y2="424.2" stroke="#767676" stroke-width="1.8"/>
<line x1="59.2" y1="424.2" x2="59.2" y2="428.2" stroke="#444444" stroke-width="1"/>
<line x1="130.73" y1="424.2" x2="130.73" y2="428.2" stroke="#444444" stroke-width="1"/>
<line x1="202.27" y1="424.2" x2="202.27" y2="428.2" stroke="#444444" stroke-width="1"/>
<line x1="273.8" y1="424.2" x2="273.8" y2="428.2" stroke="#444444" stroke-width="1"/>
<text x="62.6" y="437.7" font-family="'Liberation Serif', serif" font-size="11.5" fill="#2e2e2e" text-anchor="end" transform="rotate(-45 62.6 437.7)" stroke="#2e2e2e" stroke-width="0.25">0</text>
<text x="134.13" y="437.7" font-family="'Liberation Serif', serif" font-size="11.5" fill="#2e2e2e" text-anchor="end" transform="rotate(-45 134.13 437.7)" stroke="#2e2e2e" stroke-width="0.25">200</text>
<text x="205.67" y="437.7" font-family="'Liberation Serif', serif" font-size="11.5" fill="#2e2e2e" text-anchor="end" transform="rotate(-45 205.67 437.7)" stroke="#2e2e2e" stroke-width="0.25">400</text>
<text x="277.2" y="437.7" font-family="'Liberation Serif', serif" font-size="11.5" fill="#2e2e2e" text-anchor="end" transform="rotate(-45 277.2 437.7)" stroke="#2e2e2e" stroke-width="0.25">600</text>
<line x1="59.2" y1="267.7" x2="59.2" y2="424.2" stroke="#4a4aff" stroke-width="1.25"/>
<line x1="55.2" y1="424.2" x2="59.2" y2="424.2" stroke="#4a4aff" stroke-width="1.2"/>
<text x="49" y="428" font-family="'Liberation Sans', sans-serif" font-size="10.6" fill="#3030ff" text-anchor="end">0</text>
<line x1="55.2" y1="401.91" x2="59.2" y2="401.91" stroke="#4a4aff" stroke-width="1.2"/>
<text x="49" y="405.71" font-family="'Liberation Sans', sans-serif" font-size="10.6" fill="#3030ff" text-anchor="end">10</text>
<line x1="55.2" y1="379.63" x2="59.2" y2="379.63" stroke="#4a4aff" stroke-width="1.2"/>
<text x="49" y="383.43" font-family="'Liberation Sans', sans-serif" font-size="10.6" fill="#3030ff" text-anchor="end">20</text>
<line x1="55.2" y1="357.34" x2="59.2" y2="357.34" stroke="#4a4aff" stroke-width="1.2"/>
<text x="49" y="361.14" font-family="'Liberation Sans', sans-serif" font-size="10.6" fill="#3030ff" text-anchor="end">30</text>
<line x1="55.2" y1="335.06" x2="59.2" y2="335.06" stroke="#4a4aff" stroke-width="1.2"/>
<text x="49" y="338.86" font-family="'Liberation Sans', sans-serif" font-size="10.6" fill="#3030ff" text-anchor="end">40</text>
<line x1="55.2" y1="312.77" x2="59.2" y2="312.77" stroke="#4a4aff" stroke-width="1.2"/>
<text x="49" y="316.57" font-family="'Liberation Sans', sans-serif" font-size="10.6" fill="#3030ff" text-anchor="end">50</text>
<line x1="55.2" y1="290.49" x2="59.2" y2="290.49" stroke="#4a4aff" stroke-width="1.2"/>
<text x="49" y="294.29" font-family="'Liberation Sans', sans-serif" font-size="10.6" fill="#3030ff" text-anchor="end">60</text>
<line x1="55.2" y1="268.2" x2="59.2" y2="268.2" stroke="#4a4aff" stroke-width="1.2"/>
<text x="49" y="272" font-family="'Liberation Sans', sans-serif" font-size="10.6" fill="#3030ff" text-anchor="end">70</text>
<line x1="273.8" y1="267.7" x2="273.8" y2="424.2" stroke="#ff1414" stroke-width="1"/>
<line x1="273.8" y1="424.2" x2="277.8" y2="424.2" stroke="#ff1414" stroke-width="1"/>
<text x="284.4" y="428.2" font-family="'Liberation Serif', serif" font-size="12" fill="#ff1414" stroke="#ff1414" stroke-width="0.3">15</text>
<line x1="273.8" y1="404.7" x2="277.8" y2="404.7" stroke="#ff1414" stroke-width="1"/>
<text x="284.4" y="408.7" font-family="'Liberation Serif', serif" font-size="12" fill="#ff1414" stroke="#ff1414" stroke-width="0.3">17</text>
<line x1="273.8" y1="385.2" x2="277.8" y2="385.2" stroke="#ff1414" stroke-width="1"/>
<text x="284.4" y="389.2" font-family="'Liberation Serif', serif" font-size="12" fill="#ff1414" stroke="#ff1414" stroke-width="0.3">19</text>
<line x1="273.8" y1="365.7" x2="277.8" y2="365.7" stroke="#ff1414" stroke-width="1"/>
<text x="284.4" y="369.7" font-family="'Liberation Serif', serif" font-size="12" fill="#ff1414" stroke="#ff1414" stroke-width="0.3">21</text>
<line x1="273.8" y1="346.2" x2="277.8" y2="346.2" stroke="#ff1414" stroke-width="1"/>
<text x="284.4" y="350.2" font-family="'Liberation Serif', serif" font-size="12" fill="#ff1414" stroke="#ff1414" stroke-width="0.3">23</text>
<line x1="273.8" y1="326.7" x2="277.8" y2="326.7" stroke="#ff1414" stroke-width="1"/>
<text x="284.4" y="330.7" font-family="'Liberation Serif', serif" font-size="12" fill="#ff1414" stroke="#ff1414" stroke-width="0.3">25</text>
<line x1="273.8" y1="307.2" x2="277.8" y2="307.2" stroke="#ff1414" stroke-width="1"/>
<text x="284.4" y="311.2" font-family="'Liberation Serif', serif" font-size="12" fill="#ff1414" stroke="#ff1414" stroke-width="0.3">27</text>
<line x1="273.8" y1="287.7" x2="277.8" y2="287.7" stroke="#ff1414" stroke-width="1"/>
<text x="284.4" y="291.7" font-family="'Liberation Serif', serif" font-size="12" fill="#ff1414" stroke="#ff1414" stroke-width="0.3">29</text>
<line x1="273.8" y1="268.2" x2="277.8" y2="268.2" stroke="#ff1414" stroke-width="1"/>
<text x="284.4" y="272.2" font-family="'Liberation Serif', serif" font-size="12" fill="#ff1414" stroke="#ff1414" stroke-width="0.3">31</text>
<text x="20.3" y="345" font-family="'Liberation Serif', serif" font-size="12.5" fill="#3030ff" text-anchor="middle" font-weight="bold" transform="rotate(-90 20.3 345)" textLength="155" lengthAdjust="spacingAndGlyphs">Compressive strength (MPa)</text>
<text x="322" y="346.4" font-family="'Liberation Serif', serif" font-size="12.5" fill="#ff1414" text-anchor="middle" font-weight="bold" transform="rotate(-90 322 346.4)" textLength="84.8" lengthAdjust="spacingAndGlyphs">Flow value (cm)</text>
<text x="164.5" y="470" font-family="'Liberation Serif', serif" font-size="12.5" fill="#000" text-anchor="middle" font-weight="bold" textLength="59" lengthAdjust="spacingAndGlyphs">Cement (g)</text>
<text x="1.9" y="245.8" font-family="'Liberation Serif', serif" font-size="17.6" fill="#000" font-weight="bold">c)</text>
<line x1="438.52" y1="268" x2="438.52" y2="424" stroke="#efefef" stroke-width="1"/>
<line x1="460.74" y1="268" x2="460.74" y2="424" stroke="#efefef" stroke-width="1"/>
<line x1="482.96" y1="268" x2="482.96" y2="424" stroke="#efefef" stroke-width="1"/>
<line x1="505.18" y1="268" x2="505.18" y2="424" stroke="#efefef" stroke-width="1"/>
<line x1="527.4" y1="268" x2="527.4" y2="424" stroke="#efefef" stroke-width="1"/>
<line x1="549.62" y1="268" x2="549.62" y2="424" stroke="#efefef" stroke-width="1"/>
<line x1="571.84" y1="268" x2="571.84" y2="424" stroke="#efefef" stroke-width="1"/>
<line x1="594.06" y1="268" x2="594.06" y2="424" stroke="#efefef" stroke-width="1"/>
<line x1="616.28" y1="268" x2="616.28" y2="424" stroke="#efefef" stroke-width="1"/>
<line x1="416.5" y1="269" x2="416.5" y2="418" stroke="#c4c4c4" stroke-width="1" stroke-dasharray="3 2.5"/>
<line x1="483.2" y1="269" x2="483.2" y2="418" stroke="#c4c4c4" stroke-width="1" stroke-dasharray="3 2.5"/>
<line x1="549.6" y1="269" x2="549.6" y2="418" stroke="#c4c4c4" stroke-width="1" stroke-dasharray="3 2.5"/>
<line x1="616" y1="269" x2="616" y2="418" stroke="#c4c4c4" stroke-width="1" stroke-dasharray="3 2.5"/>
<text x="417.3" y="434" font-family="'Liberation Sans', sans-serif" font-size="9.6" fill="#2e2e2e" text-anchor="middle">0</text>
<text x="482.6" y="434" font-family="'Liberation Sans', sans-serif" font-size="9.6" fill="#2e2e2e" text-anchor="middle">75</text>
<text x="550.5" y="434" font-family="'Liberation Sans', sans-serif" font-size="9.6" fill="#2e2e2e" text-anchor="middle">150</text>
<text x="617" y="434" font-family="'Liberation Sans', sans-serif" font-size="9.6" fill="#2e2e2e" text-anchor="middle">225</text>
<g fill="none" stroke="#52a3f7" stroke-width="1.2">
<circle cx="416.9" cy="306" r="4.5"/>
<circle cx="416.9" cy="343" r="4.5"/>
<circle cx="416.9" cy="308.36" r="4.5"/>
<circle cx="416.9" cy="311.08" r="4.5"/>
<circle cx="416.9" cy="314.31" r="4.5"/>
<circle cx="416.9" cy="317.09" r="4.5"/>
<circle cx="416.9" cy="320.59" r="4.5"/>
<circle cx="416.9" cy="323.98" r="4.5"/>
<circle cx="416.9" cy="327.04" r="4.5"/>
<circle cx="416.9" cy="331.39" r="4.5"/>
<circle cx="416.9" cy="333.17" r="4.5"/>
<circle cx="416.9" cy="336.83" r="4.5"/>
<circle cx="416.9" cy="339.02" r="4.5"/>
<circle cx="416.9" cy="350" r="4.5"/>
<circle cx="416.9" cy="385" r="4.5"/>
<circle cx="416.9" cy="355.03" r="4.5"/>
<circle cx="416.9" cy="359.14" r="4.5"/>
<circle cx="416.9" cy="366.19" r="4.5"/>
<circle cx="416.9" cy="370.79" r="4.5"/>
<circle cx="416.9" cy="380.39" r="4.5"/>
<circle cx="416.9" cy="400" r="4.5"/>
<circle cx="416.9" cy="409.6" r="4.5"/>
<circle cx="416.9" cy="402.51" r="4.5"/>
<circle cx="416.9" cy="404.13" r="4.5"/>
<circle cx="416.9" cy="407.15" r="4.5"/>
<circle cx="483.2" cy="316" r="4.5"/>
<circle cx="483.2" cy="344" r="4.5"/>
<circle cx="483.2" cy="318.15" r="4.5"/>
<circle cx="483.2" cy="322.07" r="4.5"/>
<circle cx="483.2" cy="324.67" r="4.5"/>
<circle cx="483.2" cy="329.74" r="4.5"/>
<circle cx="483.2" cy="332.88" r="4.5"/>
<circle cx="483.2" cy="334.8" r="4.5"/>
<circle cx="483.2" cy="337.06" r="4.5"/>
<circle cx="483.2" cy="342.19" r="4.5"/>
<circle cx="483.2" cy="350" r="4.5"/>
<circle cx="483.2" cy="385" r="4.5"/>
<circle cx="483.2" cy="354.83" r="4.5"/>
<circle cx="483.2" cy="360.91" r="4.5"/>
<circle cx="483.2" cy="364.88" r="4.5"/>
<circle cx="483.2" cy="372.71" r="4.5"/>
<circle cx="483.2" cy="379.03" r="4.5"/>
<circle cx="483.2" cy="405" r="4.5"/>
<circle cx="483.2" cy="412.8" r="4.5"/>
<circle cx="483.2" cy="407.61" r="4.5"/>
<circle cx="483.2" cy="409.5" r="4.5"/>
<circle cx="549.5" cy="303" r="4.5"/>
<circle cx="549.5" cy="313" r="4.5"/>
<circle cx="549.5" cy="306.35" r="4.5"/>
<circle cx="549.5" cy="310.67" r="4.5"/>
<circle cx="549.5" cy="330.8" r="4.5"/>
<circle cx="549.5" cy="348.6" r="4.5"/>
<circle cx="549.5" cy="334.58" r="4.5"/>
<circle cx="549.5" cy="337.6" r="4.5"/>
<circle cx="549.5" cy="339.92" r="4.5"/>
<circle cx="549.5" cy="343.72" r="4.5"/>
<circle cx="549.5" cy="346.12" r="4.5"/>
<circle cx="549.5" cy="355" r="4.5"/>
<circle cx="549.5" cy="380" r="4.5"/>
<circle cx="549.5" cy="362.34" r="4.5"/>
<circle cx="549.5" cy="365.98" r="4.5"/>
<circle cx="549.5" cy="371.11" r="4.5"/>
<circle cx="549.5" cy="407" r="4.5"/>
<circle cx="549.5" cy="413.9" r="4.5"/>
<circle cx="549.5" cy="408.54" r="4.5"/>
<circle cx="549.5" cy="411.31" r="4.5"/>
<circle cx="615.9" cy="326.4" r="4.5"/>
<circle cx="615.9" cy="336.4" r="4.5"/>
<circle cx="615.9" cy="328.46" r="4.5"/>
<circle cx="615.9" cy="332.36" r="4.5"/>
<circle cx="615.9" cy="345" r="4.5"/>
<circle cx="615.9" cy="380" r="4.5"/>
<circle cx="615.9" cy="352.04" r="4.5"/>
<circle cx="615.9" cy="355.12" r="4.5"/>
<circle cx="615.9" cy="363.76" r="4.5"/>
<circle cx="615.9" cy="370.83" r="4.5"/>
<circle cx="615.9" cy="374.13" r="4.5"/>
<circle cx="615.9" cy="388.4" r="4.5"/>
<circle cx="615.9" cy="392.8" r="4.5"/>
<circle cx="615.9" cy="390.37" r="4.5"/>
<circle cx="615.9" cy="412.8" r="4.5"/>
<circle cx="615.9" cy="420.5" r="4.5"/>
<circle cx="615.9" cy="415.32" r="4.5"/>
<circle cx="615.9" cy="418.36" r="4.5"/>
</g>
<g fill="none" stroke="#f01818" stroke-width="1.2">
<circle cx="416.9" cy="306" r="4.5"/>
<circle cx="416.9" cy="322" r="4.5"/>
<circle cx="416.9" cy="308.78" r="4.5"/>
<circle cx="416.9" cy="309.29" r="4.5"/>
<circle cx="416.9" cy="312.57" r="4.5"/>
<circle cx="416.9" cy="313.88" r="4.5"/>
<circle cx="416.9" cy="315.99" r="4.5"/>
<circle cx="416.9" cy="318.6" r="4.5"/>
<circle cx="416.9" cy="319.81" r="4.5"/>
<circle cx="416.9" cy="343" r="4.5"/>
<circle cx="416.9" cy="391.4" r="4.5"/>
<circle cx="416.9" cy="345.03" r="4.5"/>
<circle cx="416.9" cy="347.37" r="4.5"/>
<circle cx="416.9" cy="349.93" r="4.5"/>
<circle cx="416.9" cy="350.78" r="4.5"/>
<circle cx="416.9" cy="353.69" r="4.5"/>
<circle cx="416.9" cy="355.48" r="4.5"/>
<circle cx="416.9" cy="357.36" r="4.5"/>
<circle cx="416.9" cy="358.96" r="4.5"/>
<circle cx="416.9" cy="360.87" r="4.5"/>
<circle cx="416.9" cy="362.36" r="4.5"/>
<circle cx="416.9" cy="364.51" r="4.5"/>
<circle cx="416.9" cy="366.42" r="4.5"/>
<circle cx="416.9" cy="369.65" r="4.5"/>
<circle cx="416.9" cy="370.79" r="4.5"/>
<circle cx="416.9" cy="372.64" r="4.5"/>
<circle cx="416.9" cy="374.51" r="4.5"/>
<circle cx="416.9" cy="377.9" r="4.5"/>
<circle cx="416.9" cy="379.97" r="4.5"/>
<circle cx="416.9" cy="381.63" r="4.5"/>
<circle cx="416.9" cy="382.94" r="4.5"/>
<circle cx="416.9" cy="384.88" r="4.5"/>
<circle cx="416.9" cy="386.99" r="4.5"/>
<circle cx="416.9" cy="389.31" r="4.5"/>
<circle cx="483.2" cy="297.4" r="4.5"/>
<circle cx="483.2" cy="303.7" r="4.5"/>
<circle cx="483.2" cy="322" r="4.5"/>
<circle cx="483.2" cy="305.74" r="4.5"/>
<circle cx="483.2" cy="306.86" r="4.5"/>
<circle cx="483.2" cy="309.37" r="4.5"/>
<circle cx="483.2" cy="311.08" r="4.5"/>
<circle cx="483.2" cy="313.68" r="4.5"/>
<circle cx="483.2" cy="315.06" r="4.5"/>
<circle cx="483.2" cy="317.06" r="4.5"/>
<circle cx="483.2" cy="319.61" r="4.5"/>
<circle cx="483.2" cy="344" r="4.5"/>
<circle cx="483.2" cy="389" r="4.5"/>
<circle cx="483.2" cy="345.55" r="4.5"/>
<circle cx="483.2" cy="348.25" r="4.5"/>
<circle cx="483.2" cy="350.19" r="4.5"/>
<circle cx="483.2" cy="352.64" r="4.5"/>
<circle cx="483.2" cy="354.52" r="4.5"/>
<circle cx="483.2" cy="356.67" r="4.5"/>
<circle cx="483.2" cy="359.02" r="4.5"/>
<circle cx="483.2" cy="360.16" r="4.5"/>
<circle cx="483.2" cy="362.09" r="4.5"/>
<circle cx="483.2" cy="365.35" r="4.5"/>
<circle cx="483.2" cy="365.85" r="4.5"/>
<circle cx="483.2" cy="368.96" r="4.5"/>
<circle cx="483.2" cy="370.85" r="4.5"/>
<circle cx="483.2" cy="371.8" r="4.5"/>
<circle cx="483.2" cy="375.3" r="4.5"/>
<circle cx="483.2" cy="377.45" r="4.5"/>
<circle cx="483.2" cy="379.01" r="4.5"/>
<circle cx="483.2" cy="381.25" r="4.5"/>
<circle cx="483.2" cy="383.44" r="4.5"/>
<circle cx="483.2" cy="384.25" r="4.5"/>
<circle cx="483.2" cy="387" r="4.5"/>
<circle cx="549.5" cy="295" r="4.5"/>
<circle cx="549.5" cy="295.8" r="4.5"/>
<circle cx="549.5" cy="312" r="4.5"/>
<circle cx="549.5" cy="314" r="4.5"/>
<circle cx="549.5" cy="322" r="4.5"/>
<circle cx="549.5" cy="326.4" r="4.5"/>
<circle cx="549.5" cy="349.7" r="4.5"/>
<circle cx="549.5" cy="382.9" r="4.5"/>
<circle cx="549.5" cy="350.96" r="4.5"/>
<circle cx="549.5" cy="354.2" r="4.5"/>
<circle cx="549.5" cy="355.66" r="4.5"/>
<circle cx="549.5" cy="357.74" r="4.5"/>
<circle cx="549.5" cy="359.69" r="4.5"/>
<circle cx="549.5" cy="361.74" r="4.5"/>
<circle cx="549.5" cy="363.35" r="4.5"/>
<circle cx="549.5" cy="364.45" r="4.5"/>
<circle cx="549.5" cy="367.8" r="4.5"/>
<circle cx="549.5" cy="369.67" r="4.5"/>
<circle cx="549.5" cy="371.19" r="4.5"/>
<circle cx="549.5" cy="373.2" r="4.5"/>
<circle cx="549.5" cy="375.37" r="4.5"/>
<circle cx="549.5" cy="376.28" r="4.5"/>
<circle cx="549.5" cy="379.41" r="4.5"/>
<circle cx="549.5" cy="380.51" r="4.5"/>
<circle cx="615.9" cy="292.8" r="4.5"/>
<circle cx="615.9" cy="304.3" r="4.5"/>
<circle cx="615.9" cy="312.7" r="4.5"/>
<circle cx="615.9" cy="318.7" r="4.5"/>
<circle cx="615.9" cy="326.4" r="4.5"/>
<circle cx="615.9" cy="321.09" r="4.5"/>
<circle cx="615.9" cy="322.75" r="4.5"/>
<circle cx="615.9" cy="324.72" r="4.5"/>
<circle cx="615.9" cy="342" r="4.5"/>
<circle cx="615.9" cy="380.7" r="4.5"/>
<circle cx="615.9" cy="343.26" r="4.5"/>
<circle cx="615.9" cy="345.43" r="4.5"/>
<circle cx="615.9" cy="347.66" r="4.5"/>
<circle cx="615.9" cy="350.59" r="4.5"/>
<circle cx="615.9" cy="351.83" r="4.5"/>
<circle cx="615.9" cy="354.35" r="4.5"/>
<circle cx="615.9" cy="355.36" r="4.5"/>
<circle cx="615.9" cy="357.49" r="4.5"/>
<circle cx="615.9" cy="359.91" r="4.5"/>
<circle cx="615.9" cy="362.68" r="4.5"/>
<circle cx="615.9" cy="364.76" r="4.5"/>
<circle cx="615.9" cy="366.76" r="4.5"/>
<circle cx="615.9" cy="368.1" r="4.5"/>
<circle cx="615.9" cy="370.55" r="4.5"/>
<circle cx="615.9" cy="372.49" r="4.5"/>
<circle cx="615.9" cy="374.53" r="4.5"/>
<circle cx="615.9" cy="375.93" r="4.5"/>
<circle cx="615.9" cy="379.38" r="4.5"/>
</g>
<g fill="none" stroke="#52a3f7" stroke-width="0.7">
<circle cx="416.9" cy="306" r="4.5"/>
<circle cx="416.9" cy="323.98" r="4.5"/>
<circle cx="416.9" cy="385" r="4.5"/>
<circle cx="416.9" cy="409.6" r="4.5"/>
<circle cx="483.2" cy="322.07" r="4.5"/>
<circle cx="483.2" cy="350" r="4.5"/>
<circle cx="483.2" cy="405" r="4.5"/>
<circle cx="549.5" cy="310.67" r="4.5"/>
<circle cx="549.5" cy="346.12" r="4.5"/>
<circle cx="549.5" cy="413.9" r="4.5"/>
<circle cx="615.9" cy="345" r="4.5"/>
<circle cx="615.9" cy="388.4" r="4.5"/>
</g>
<path d="M413.6 414L416.5 417.7L419.4 414L416.5 422.5Z" fill="#bdbdbd"/>
<path d="M480.3 414L483.2 417.7L486.1 414L483.2 422.5Z" fill="#bdbdbd"/>
<path d="M546.7 414L549.6 417.7L552.5 414L549.6 422.5Z" fill="#bdbdbd"/>
<path d="M613.1 414L616 417.7L618.9 414L616 422.5Z" fill="#bdbdbd"/>
<line x1="416.3" y1="268" x2="638.5" y2="268" stroke="#5e5e5e" stroke-width="1.3"/>
<line x1="412.3" y1="424" x2="638.5" y2="424" stroke="#767676" stroke-width="1.8"/>
<line x1="416.3" y1="424" x2="416.3" y2="428" stroke="#444444" stroke-width="1"/>
<line x1="438.52" y1="424" x2="438.52" y2="428" stroke="#444444" stroke-width="1"/>
<line x1="460.74" y1="424" x2="460.74" y2="428" stroke="#444444" stroke-width="1"/>
<line x1="482.96" y1="424" x2="482.96" y2="428" stroke="#444444" stroke-width="1"/>
<line x1="505.18" y1="424" x2="505.18" y2="428" stroke="#444444" stroke-width="1"/>
<line x1="527.4" y1="424" x2="527.4" y2="428" stroke="#444444" stroke-width="1"/>
<line x1="549.62" y1="424" x2="549.62" y2="428" stroke="#444444" stroke-width="1"/>
<line x1="571.84" y1="424" x2="571.84" y2="428" stroke="#444444" stroke-width="1"/>
<line x1="594.06" y1="424" x2="594.06" y2="428" stroke="#444444" stroke-width="1"/>
<line x1="616.28" y1="424" x2="616.28" y2="428" stroke="#444444" stroke-width="1"/>
<line x1="638.5" y1="424" x2="638.5" y2="428" stroke="#444444" stroke-width="1"/>
<text x="419.7" y="437.5" font-family="'Liberation Serif', serif" font-size="11.5" fill="#2e2e2e" text-anchor="end" transform="rotate(-45 419.7 437.5)" stroke="#2e2e2e" stroke-width="0.25">0</text>
<text x="441.92" y="437.5" font-family="'Liberation Serif', serif" font-size="11.5" fill="#2e2e2e" text-anchor="end" transform="rotate(-45 441.92 437.5)" stroke="#2e2e2e" stroke-width="0.25">25</text>
<text x="464.14" y="437.5" font-family="'Liberation Serif', serif" font-size="11.5" fill="#2e2e2e" text-anchor="end" transform="rotate(-45 464.14 437.5)" stroke="#2e2e2e" stroke-width="0.25">50</text>
<text x="486.36" y="437.5" font-family="'Liberation Serif', serif" font-size="11.5" fill="#2e2e2e" text-anchor="end" transform="rotate(-45 486.36 437.5)" stroke="#2e2e2e" stroke-width="0.25">75</text>
<text x="508.58" y="437.5" font-family="'Liberation Serif', serif" font-size="11.5" fill="#2e2e2e" text-anchor="end" transform="rotate(-45 508.58 437.5)" stroke="#2e2e2e" stroke-width="0.25">100</text>
<text x="530.8" y="437.5" font-family="'Liberation Serif', serif" font-size="11.5" fill="#2e2e2e" text-anchor="end" transform="rotate(-45 530.8 437.5)" stroke="#2e2e2e" stroke-width="0.25">125</text>
<text x="553.02" y="437.5" font-family="'Liberation Serif', serif" font-size="11.5" fill="#2e2e2e" text-anchor="end" transform="rotate(-45 553.02 437.5)" stroke="#2e2e2e" stroke-width="0.25">150</text>
<text x="575.24" y="437.5" font-family="'Liberation Serif', serif" font-size="11.5" fill="#2e2e2e" text-anchor="end" transform="rotate(-45 575.24 437.5)" stroke="#2e2e2e" stroke-width="0.25">175</text>
<text x="597.46" y="437.5" font-family="'Liberation Serif', serif" font-size="11.5" fill="#2e2e2e" text-anchor="end" transform="rotate(-45 597.46 437.5)" stroke="#2e2e2e" stroke-width="0.25">200</text>
<text x="619.68" y="437.5" font-family="'Liberation Serif', serif" font-size="11.5" fill="#2e2e2e" text-anchor="end" transform="rotate(-45 619.68 437.5)" stroke="#2e2e2e" stroke-width="0.25">225</text>
<text x="641.9" y="437.5" font-family="'Liberation Serif', serif" font-size="11.5" fill="#2e2e2e" text-anchor="end" transform="rotate(-45 641.9 437.5)" stroke="#2e2e2e" stroke-width="0.25">250</text>
<line x1="416.3" y1="268" x2="416.3" y2="424" stroke="#d4d4d4" stroke-width="1"/>
<line x1="416.3" y1="270" x2="416.3" y2="424" stroke="#3a3aff" stroke-width="1.3" stroke-dasharray="2.6 2.4"/>
<line x1="412.3" y1="424" x2="416.3" y2="424" stroke="#4a4aff" stroke-width="1.2"/>
<text x="406.1" y="427.8" font-family="'Liberation Sans', sans-serif" font-size="10.6" fill="#3030ff" text-anchor="end">0</text>
<line x1="412.3" y1="401.71" x2="416.3" y2="401.71" stroke="#4a4aff" stroke-width="1.2"/>
<text x="406.1" y="405.51" font-family="'Liberation Sans', sans-serif" font-size="10.6" fill="#3030ff" text-anchor="end">10</text>
<line x1="412.3" y1="379.43" x2="416.3" y2="379.43" stroke="#4a4aff" stroke-width="1.2"/>
<text x="406.1" y="383.23" font-family="'Liberation Sans', sans-serif" font-size="10.6" fill="#3030ff" text-anchor="end">20</text>
<line x1="412.3" y1="357.14" x2="416.3" y2="357.14" stroke="#4a4aff" stroke-width="1.2"/>
<text x="406.1" y="360.94" font-family="'Liberation Sans', sans-serif" font-size="10.6" fill="#3030ff" text-anchor="end">30</text>
<line x1="412.3" y1="334.86" x2="416.3" y2="334.86" stroke="#4a4aff" stroke-width="1.2"/>
<text x="406.1" y="338.66" font-family="'Liberation Sans', sans-serif" font-size="10.6" fill="#3030ff" text-anchor="end">40</text>
<line x1="412.3" y1="312.57" x2="416.3" y2="312.57" stroke="#4a4aff" stroke-width="1.2"/>
<text x="406.1" y="316.37" font-family="'Liberation Sans', sans-serif" font-size="10.6" fill="#3030ff" text-anchor="end">50</text>
<line x1="412.3" y1="290.29" x2="416.3" y2="290.29" stroke="#4a4aff" stroke-width="1.2"/>
<text x="406.1" y="294.09" font-family="'Liberation Sans', sans-serif" font-size="10.6" fill="#3030ff" text-anchor="end">60</text>
<line x1="412.3" y1="268" x2="416.3" y2="268" stroke="#4a4aff" stroke-width="1.2"/>
<text x="406.1" y="271.8" font-family="'Liberation Sans', sans-serif" font-size="10.6" fill="#3030ff" text-anchor="end">70</text>
<line x1="638.5" y1="267.5" x2="638.5" y2="424" stroke="#ff1414" stroke-width="1"/>
<line x1="638.5" y1="424" x2="642.5" y2="424" stroke="#ff1414" stroke-width="1"/>
<text x="649.1" y="428" font-family="'Liberation Serif', serif" font-size="12" fill="#ff1414" stroke="#ff1414" stroke-width="0.3">15</text>
<line x1="638.5" y1="404.5" x2="642.5" y2="404.5" stroke="#ff1414" stroke-width="1"/>
<text x="649.1" y="408.5" font-family="'Liberation Serif', serif" font-size="12" fill="#ff1414" stroke="#ff1414" stroke-width="0.3">17</text>
<line x1="638.5" y1="385" x2="642.5" y2="385" stroke="#ff1414" stroke-width="1"/>
<text x="649.1" y="389" font-family="'Liberation Serif', serif" font-size="12" fill="#ff1414" stroke="#ff1414" stroke-width="0.3">19</text>
<line x1="638.5" y1="365.5" x2="642.5" y2="365.5" stroke="#ff1414" stroke-width="1"/>
<text x="649.1" y="369.5" font-family="'Liberation Serif', serif" font-size="12" fill="#ff1414" stroke="#ff1414" stroke-width="0.3">21</text>
<line x1="638.5" y1="346" x2="642.5" y2="346" stroke="#ff1414" stroke-width="1"/>
<text x="649.1" y="350" font-family="'Liberation Serif', serif" font-size="12" fill="#ff1414" stroke="#ff1414" stroke-width="0.3">23</text>
<line x1="638.5" y1="326.5" x2="642.5" y2="326.5" stroke="#ff1414" stroke-width="1"/>
<text x="649.1" y="330.5" font-family="'Liberation Serif', serif" font-size="12" fill="#ff1414" stroke="#ff1414" stroke-width="0.3">25</text>
<line x1="638.5" y1="307" x2="642.5" y2="307" stroke="#ff1414" stroke-width="1"/>
<text x="649.1" y="311" font-family="'Liberation Serif', serif" font-size="12" fill="#ff1414" stroke="#ff1414" stroke-width="0.3">27</text>
<line x1="638.5" y1="287.5" x2="642.5" y2="287.5" stroke="#ff1414" stroke-width="1"/>
<text x="649.1" y="291.5" font-family="'Liberation Serif', serif" font-size="12" fill="#ff1414" stroke="#ff1414" stroke-width="0.3">29</text>
<line x1="638.5" y1="268" x2="642.5" y2="268" stroke="#ff1414" stroke-width="1"/>
<text x="649.1" y="272" font-family="'Liberation Serif', serif" font-size="12" fill="#ff1414" stroke="#ff1414" stroke-width="0.3">31</text>
<text x="378.8" y="345" font-family="'Liberation Serif', serif" font-size="12.5" fill="#3030ff" text-anchor="middle" font-weight="bold" transform="rotate(-90 378.8 345)" textLength="155" lengthAdjust="spacingAndGlyphs">Compressive strength (MPa)</text>
<text x="679.5" y="347.5" font-family="'Liberation Serif', serif" font-size="12.5" fill="#ff1414" text-anchor="middle" font-weight="bold" transform="rotate(-90 679.5 347.5)" textLength="86" lengthAdjust="spacingAndGlyphs">Flow value (cm)</text>
<text x="520.25" y="470" font-family="'Liberation Serif', serif" font-size="12.5" fill="#000" text-anchor="middle" font-weight="bold" textLength="56.9" lengthAdjust="spacingAndGlyphs">Fly ash (g)</text>
<text x="359.5" y="245.8" font-family="'Liberation Serif', serif" font-size="17.6" fill="#000" font-weight="bold">d)</text>
<line x1="110.83" y1="502.8" x2="110.83" y2="658.7" stroke="#efefef" stroke-width="1"/>
<line x1="167.05" y1="502.8" x2="167.05" y2="658.7" stroke="#efefef" stroke-width="1"/>
<line x1="223.28" y1="502.8" x2="223.28" y2="658.7" stroke="#efefef" stroke-width="1"/>
<line x1="118.4" y1="503.8" x2="118.4" y2="652.7" stroke="#c4c4c4" stroke-width="1" stroke-dasharray="3 2.5"/>
<line x1="122.3" y1="503.8" x2="122.3" y2="652.7" stroke="#c4c4c4" stroke-width="1" stroke-dasharray="3 2.5"/>
<line x1="189.6" y1="503.8" x2="189.6" y2="652.7" stroke="#c4c4c4" stroke-width="1" stroke-dasharray="3 2.5"/>
<line x1="222.9" y1="503.8" x2="222.9" y2="652.7" stroke="#c4c4c4" stroke-width="1" stroke-dasharray="3 2.5"/>
<line x1="253.6" y1="503.8" x2="253.6" y2="652.7" stroke="#c4c4c4" stroke-width="1" stroke-dasharray="3 2.5"/>
<text x="115.5" y="666.9" font-family="'Liberation Sans', sans-serif" font-size="9.6" fill="#2e2e2e" text-anchor="middle">23</text>
<text x="127.3" y="666.9" font-family="'Liberation Sans', sans-serif" font-size="9.6" fill="#2e2e2e" text-anchor="middle">24</text>
<text x="190.3" y="666.9" font-family="'Liberation Sans', sans-serif" font-size="9.6" fill="#2e2e2e" text-anchor="middle">48</text>
<text x="223.6" y="666.9" font-family="'Liberation Sans', sans-serif" font-size="9.6" fill="#2e2e2e" text-anchor="middle">60</text>
<text x="254.3" y="666.9" font-family="'Liberation Sans', sans-serif" font-size="9.6" fill="#2e2e2e" text-anchor="middle">71</text>
<g fill="none" stroke="#52a3f7" stroke-width="1.2">
<circle cx="118.9" cy="545" r="4.5"/>
<circle cx="118.9" cy="565" r="4.5"/>
<circle cx="118.9" cy="575" r="4.5"/>
<circle cx="118.9" cy="600" r="4.5"/>
<circle cx="118.9" cy="640" r="4.5"/>
<circle cx="118.9" cy="648" r="4.5"/>
<circle cx="121.7" cy="539" r="4.5"/>
<circle cx="121.7" cy="561.5" r="4.5"/>
<circle cx="121.7" cy="571.3" r="4.5"/>
<circle cx="121.7" cy="627.6" r="4.5"/>
<circle cx="121.7" cy="635.8" r="4.5"/>
<circle cx="121.7" cy="653.8" r="4.5"/>
<circle cx="121.7" cy="637.81" r="4.5"/>
<circle cx="121.7" cy="642.66" r="4.5"/>
<circle cx="121.7" cy="644.82" r="4.5"/>
<circle cx="121.7" cy="648.84" r="4.5"/>
<circle cx="121.7" cy="651.35" r="4.5"/>
<circle cx="189.6" cy="535" r="4.5"/>
<circle cx="189.6" cy="575" r="4.5"/>
<circle cx="189.6" cy="539.02" r="4.5"/>
<circle cx="189.6" cy="539.77" r="4.5"/>
<circle cx="189.6" cy="544.93" r="4.5"/>
<circle cx="189.6" cy="548.25" r="4.5"/>
<circle cx="189.6" cy="549.33" r="4.5"/>
<circle cx="189.6" cy="554.64" r="4.5"/>
<circle cx="189.6" cy="557.13" r="4.5"/>
<circle cx="189.6" cy="560.73" r="4.5"/>
<circle cx="189.6" cy="562.11" r="4.5"/>
<circle cx="189.6" cy="565.42" r="4.5"/>
<circle cx="189.6" cy="568.55" r="4.5"/>
<circle cx="189.6" cy="573.3" r="4.5"/>
<circle cx="189.6" cy="635" r="4.5"/>
<circle cx="189.6" cy="655.4" r="4.5"/>
<circle cx="189.6" cy="637.45" r="4.5"/>
<circle cx="189.6" cy="639.25" r="4.5"/>
<circle cx="189.6" cy="641.65" r="4.5"/>
<circle cx="189.6" cy="643.61" r="4.5"/>
<circle cx="189.6" cy="645.41" r="4.5"/>
<circle cx="189.6" cy="647.79" r="4.5"/>
<circle cx="189.6" cy="651.55" r="4.5"/>
<circle cx="189.6" cy="652.7" r="4.5"/>
<circle cx="222.9" cy="550" r="4.5"/>
<circle cx="222.9" cy="552" r="4.5"/>
<circle cx="222.9" cy="562.3" r="4.5"/>
<circle cx="222.9" cy="565.5" r="4.5"/>
<circle cx="222.9" cy="580" r="4.5"/>
<circle cx="222.9" cy="624.3" r="4.5"/>
<circle cx="222.9" cy="639.9" r="4.5"/>
<circle cx="222.9" cy="643" r="4.5"/>
<circle cx="222.9" cy="649.7" r="4.5"/>
<circle cx="222.9" cy="583" r="4.5"/>
<circle cx="222.9" cy="620" r="4.5"/>
<circle cx="222.9" cy="586.9" r="4.5"/>
<circle cx="222.9" cy="595.5" r="4.5"/>
<circle cx="222.9" cy="598.84" r="4.5"/>
<circle cx="222.9" cy="602.81" r="4.5"/>
<circle cx="222.9" cy="611.36" r="4.5"/>
<circle cx="222.9" cy="617.08" r="4.5"/>
<circle cx="253.6" cy="559" r="4.5"/>
<circle cx="253.6" cy="564.7" r="4.5"/>
<circle cx="253.6" cy="572.9" r="4.5"/>
<circle cx="253.6" cy="624.3" r="4.5"/>
<circle cx="253.6" cy="634.1" r="4.5"/>
<circle cx="253.6" cy="640.7" r="4.5"/>
<circle cx="253.6" cy="649.7" r="4.5"/>
<circle cx="253.6" cy="643.37" r="4.5"/>
<circle cx="253.6" cy="646.26" r="4.5"/>
<circle cx="253.6" cy="580" r="4.5"/>
<circle cx="253.6" cy="615" r="4.5"/>
<circle cx="253.6" cy="583.03" r="4.5"/>
<circle cx="253.6" cy="589" r="4.5"/>
<circle cx="253.6" cy="597.1" r="4.5"/>
<circle cx="253.6" cy="598.32" r="4.5"/>
<circle cx="253.6" cy="605.02" r="4.5"/>
<circle cx="253.6" cy="610.58" r="4.5"/>
</g>
<g fill="none" stroke="#f01818" stroke-width="1.2">
<circle cx="118.9" cy="545" r="4.5"/>
<circle cx="118.9" cy="550" r="4.5"/>
<circle cx="118.9" cy="555" r="4.5"/>
<circle cx="118.9" cy="620" r="4.5"/>
<circle cx="118.9" cy="578.6" r="4.5"/>
<circle cx="118.9" cy="621" r="4.5"/>
<circle cx="118.9" cy="580.42" r="4.5"/>
<circle cx="118.9" cy="584.66" r="4.5"/>
<circle cx="118.9" cy="587.06" r="4.5"/>
<circle cx="118.9" cy="587.49" r="4.5"/>
<circle cx="118.9" cy="590.98" r="4.5"/>
<circle cx="118.9" cy="594.28" r="4.5"/>
<circle cx="118.9" cy="597.11" r="4.5"/>
<circle cx="118.9" cy="598.44" r="4.5"/>
<circle cx="118.9" cy="600.53" r="4.5"/>
<circle cx="118.9" cy="602.89" r="4.5"/>
<circle cx="118.9" cy="607.04" r="4.5"/>
<circle cx="118.9" cy="607.88" r="4.5"/>
<circle cx="118.9" cy="611.21" r="4.5"/>
<circle cx="118.9" cy="612.71" r="4.5"/>
<circle cx="118.9" cy="616.07" r="4.5"/>
<circle cx="118.9" cy="619.52" r="4.5"/>
<circle cx="121.7" cy="541" r="4.5"/>
<circle cx="121.7" cy="548" r="4.5"/>
<circle cx="121.7" cy="580" r="4.5"/>
<circle cx="121.7" cy="615" r="4.5"/>
<circle cx="121.7" cy="582.21" r="4.5"/>
<circle cx="121.7" cy="586.88" r="4.5"/>
<circle cx="121.7" cy="588.71" r="4.5"/>
<circle cx="121.7" cy="590.42" r="4.5"/>
<circle cx="121.7" cy="593.28" r="4.5"/>
<circle cx="121.7" cy="597.48" r="4.5"/>
<circle cx="121.7" cy="600.29" r="4.5"/>
<circle cx="121.7" cy="602.81" r="4.5"/>
<circle cx="121.7" cy="605.31" r="4.5"/>
<circle cx="121.7" cy="608.76" r="4.5"/>
<circle cx="121.7" cy="611.6" r="4.5"/>
<circle cx="189.6" cy="528" r="4.5"/>
<circle cx="189.6" cy="530" r="4.5"/>
<circle cx="189.6" cy="538.6" r="4.5"/>
<circle cx="189.6" cy="560" r="4.5"/>
<circle cx="189.6" cy="541.31" r="4.5"/>
<circle cx="189.6" cy="542.05" r="4.5"/>
<circle cx="189.6" cy="544.03" r="4.5"/>
<circle cx="189.6" cy="546.4" r="4.5"/>
<circle cx="189.6" cy="547.78" r="4.5"/>
<circle cx="189.6" cy="550.05" r="4.5"/>
<circle cx="189.6" cy="553.02" r="4.5"/>
<circle cx="189.6" cy="554.84" r="4.5"/>
<circle cx="189.6" cy="556.66" r="4.5"/>
<circle cx="189.6" cy="558.28" r="4.5"/>
<circle cx="189.6" cy="577" r="4.5"/>
<circle cx="189.6" cy="629.3" r="4.5"/>
<circle cx="189.6" cy="579.76" r="4.5"/>
<circle cx="189.6" cy="581.82" r="4.5"/>
<circle cx="189.6" cy="583.12" r="4.5"/>
<circle cx="189.6" cy="585.44" r="4.5"/>
<circle cx="189.6" cy="586.24" r="4.5"/>
<circle cx="189.6" cy="589.49" r="4.5"/>
<circle cx="189.6" cy="590.99" r="4.5"/>
<circle cx="189.6" cy="593.55" r="4.5"/>
<circle cx="189.6" cy="595.37" r="4.5"/>
<circle cx="189.6" cy="596.73" r="4.5"/>
<circle cx="189.6" cy="598.31" r="4.5"/>
<circle cx="189.6" cy="601.91" r="4.5"/>
<circle cx="189.6" cy="602.48" r="4.5"/>
<circle cx="189.6" cy="605.11" r="4.5"/>
<circle cx="189.6" cy="606.89" r="4.5"/>
<circle cx="189.6" cy="608.82" r="4.5"/>
<circle cx="189.6" cy="611.63" r="4.5"/>
<circle cx="189.6" cy="614.07" r="4.5"/>
<circle cx="189.6" cy="614.79" r="4.5"/>
<circle cx="189.6" cy="617.51" r="4.5"/>
<circle cx="189.6" cy="618.88" r="4.5"/>
<circle cx="189.6" cy="621.36" r="4.5"/>
<circle cx="189.6" cy="623.07" r="4.5"/>
<circle cx="189.6" cy="624.67" r="4.5"/>
<circle cx="189.6" cy="626.68" r="4.5"/>
<circle cx="222.9" cy="532" r="4.5"/>
<circle cx="222.9" cy="541.9" r="4.5"/>
<circle cx="222.9" cy="548.4" r="4.5"/>
<circle cx="222.9" cy="583.5" r="4.5"/>
<circle cx="222.9" cy="621" r="4.5"/>
<circle cx="222.9" cy="585.89" r="4.5"/>
<circle cx="222.9" cy="587.69" r="4.5"/>
<circle cx="222.9" cy="590.31" r="4.5"/>
<circle cx="222.9" cy="592.58" r="4.5"/>
<circle cx="222.9" cy="595.64" r="4.5"/>
<circle cx="222.9" cy="597.58" r="4.5"/>
<circle cx="222.9" cy="600.41" r="4.5"/>
<circle cx="222.9" cy="602.96" r="4.5"/>
<circle cx="222.9" cy="606.16" r="4.5"/>
<circle cx="222.9" cy="609.37" r="4.5"/>
<circle cx="222.9" cy="611.56" r="4.5"/>
<circle cx="222.9" cy="613.3" r="4.5"/>
<circle cx="222.9" cy="615.81" r="4.5"/>
<circle cx="222.9" cy="618.55" r="4.5"/>
<circle cx="253.6" cy="541.9" r="4.5"/>
<circle cx="253.6" cy="546.8" r="4.5"/>
<circle cx="253.6" cy="555" r="4.5"/>
<circle cx="253.6" cy="549.52" r="4.5"/>
<circle cx="253.6" cy="550.38" r="4.5"/>
<circle cx="253.6" cy="552.53" r="4.5"/>
<circle cx="253.6" cy="580" r="4.5"/>
<circle cx="253.6" cy="615.4" r="4.5"/>
<circle cx="253.6" cy="581.96" r="4.5"/>
<circle cx="253.6" cy="584.83" r="4.5"/>
<circle cx="253.6" cy="587.46" r="4.5"/>
<circle cx="253.6" cy="591.15" r="4.5"/>
<circle cx="253.6" cy="593.44" r="4.5"/>
<circle cx="253.6" cy="596.02" r="4.5"/>
<circle cx="253.6" cy="596.61" r="4.5"/>
<circle cx="253.6" cy="599.16" r="4.5"/>
<circle cx="253.6" cy="603.23" r="4.5"/>
<circle cx="253.6" cy="606.19" r="4.5"/>
<circle cx="253.6" cy="607.75" r="4.5"/>
<circle cx="253.6" cy="610.54" r="4.5"/>
<circle cx="253.6" cy="611.73" r="4.5"/>
</g>
<g fill="none" stroke="#52a3f7" stroke-width="0.7">
<circle cx="118.9" cy="545" r="4.5"/>
<circle cx="121.7" cy="561.5" r="4.5"/>
<circle cx="121.7" cy="644.82" r="4.5"/>
<circle cx="189.6" cy="544.93" r="4.5"/>
<circle cx="189.6" cy="565.42" r="4.5"/>
<circle cx="189.6" cy="641.65" r="4.5"/>
<circle cx="222.9" cy="552" r="4.5"/>
<circle cx="222.9" cy="649.7" r="4.5"/>
<circle cx="222.9" cy="611.36" r="4.5"/>
<circle cx="253.6" cy="640.7" r="4.5"/>
<circle cx="253.6" cy="589" r="4.5"/>
</g>
<path d="M115.5 648.7L118.4 652.4L121.3 648.7L118.4 657.2Z" fill="#bdbdbd"/>
<path d="M119.4 648.7L122.3 652.4L125.2 648.7L122.3 657.2Z" fill="#bdbdbd"/>
<path d="M186.7 648.7L189.6 652.4L192.5 648.7L189.6 657.2Z" fill="#bdbdbd"/>
<path d="M220 648.7L222.9 652.4L225.8 648.7L222.9 657.2Z" fill="#bdbdbd"/>
<path d="M250.7 648.7L253.6 652.4L256.5 648.7L253.6 657.2Z" fill="#bdbdbd"/>
<line x1="54.6" y1="502.8" x2="279.5" y2="502.8" stroke="#5e5e5e" stroke-width="1.3"/>
<line x1="50.6" y1="658.7" x2="279.5" y2="658.7" stroke="#767676" stroke-width="1.8"/>
<line x1="54.6" y1="658.7" x2="54.6" y2="662.7" stroke="#444444" stroke-width="1"/>
<line x1="110.83" y1="658.7" x2="110.83" y2="662.7" stroke="#444444" stroke-width="1"/>
<line x1="167.05" y1="658.7" x2="167.05" y2="662.7" stroke="#444444" stroke-width="1"/>
<line x1="223.28" y1="658.7" x2="223.28" y2="662.7" stroke="#444444" stroke-width="1"/>
<line x1="279.5" y1="658.7" x2="279.5" y2="662.7" stroke="#444444" stroke-width="1"/>
<text x="58" y="672.2" font-family="'Liberation Serif', serif" font-size="11.5" fill="#2e2e2e" text-anchor="end" transform="rotate(-45 58 672.2)" stroke="#2e2e2e" stroke-width="0.25">0</text>
<text x="114.23" y="672.2" font-family="'Liberation Serif', serif" font-size="11.5" fill="#2e2e2e" text-anchor="end" transform="rotate(-45 114.23 672.2)" stroke="#2e2e2e" stroke-width="0.25">20</text>
<text x="170.45" y="672.2" font-family="'Liberation Serif', serif" font-size="11.5" fill="#2e2e2e" text-anchor="end" transform="rotate(-45 170.45 672.2)" stroke="#2e2e2e" stroke-width="0.25">40</text>
<text x="226.68" y="672.2" font-family="'Liberation Serif', serif" font-size="11.5" fill="#2e2e2e" text-anchor="end" transform="rotate(-45 226.68 672.2)" stroke="#2e2e2e" stroke-width="0.25">60</text>
<text x="282.9" y="672.2" font-family="'Liberation Serif', serif" font-size="11.5" fill="#2e2e2e" text-anchor="end" transform="rotate(-45 282.9 672.2)" stroke="#2e2e2e" stroke-width="0.25">80</text>
<line x1="54.6" y1="502.3" x2="54.6" y2="658.7" stroke="#4a4aff" stroke-width="1.25"/>
<line x1="50.6" y1="658.7" x2="54.6" y2="658.7" stroke="#4a4aff" stroke-width="1.2"/>
<text x="44.4" y="662.5" font-family="'Liberation Sans', sans-serif" font-size="10.6" fill="#3030ff" text-anchor="end">0</text>
<line x1="50.6" y1="636.43" x2="54.6" y2="636.43" stroke="#4a4aff" stroke-width="1.2"/>
<text x="44.4" y="640.23" font-family="'Liberation Sans', sans-serif" font-size="10.6" fill="#3030ff" text-anchor="end">10</text>
<line x1="50.6" y1="614.16" x2="54.6" y2="614.16" stroke="#4a4aff" stroke-width="1.2"/>
<text x="44.4" y="617.96" font-family="'Liberation Sans', sans-serif" font-size="10.6" fill="#3030ff" text-anchor="end">20</text>
<line x1="50.6" y1="591.89" x2="54.6" y2="591.89" stroke="#4a4aff" stroke-width="1.2"/>
<text x="44.4" y="595.69" font-family="'Liberation Sans', sans-serif" font-size="10.6" fill="#3030ff" text-anchor="end">30</text>
<line x1="50.6" y1="569.61" x2="54.6" y2="569.61" stroke="#4a4aff" stroke-width="1.2"/>
<text x="44.4" y="573.41" font-family="'Liberation Sans', sans-serif" font-size="10.6" fill="#3030ff" text-anchor="end">40</text>
<line x1="50.6" y1="547.34" x2="54.6" y2="547.34" stroke="#4a4aff" stroke-width="1.2"/>
<text x="44.4" y="551.14" font-family="'Liberation Sans', sans-serif" font-size="10.6" fill="#3030ff" text-anchor="end">50</text>
<line x1="50.6" y1="525.07" x2="54.6" y2="525.07" stroke="#4a4aff" stroke-width="1.2"/>
<text x="44.4" y="528.87" font-family="'Liberation Sans', sans-serif" font-size="10.6" fill="#3030ff" text-anchor="end">60</text>
<line x1="50.6" y1="502.8" x2="54.6" y2="502.8" stroke="#4a4aff" stroke-width="1.2"/>
<text x="44.4" y="506.6" font-family="'Liberation Sans', sans-serif" font-size="10.6" fill="#3030ff" text-anchor="end">70</text>
<line x1="279.5" y1="502.3" x2="279.5" y2="658.7" stroke="#ff1414" stroke-width="1"/>
<line x1="279.5" y1="658.7" x2="283.5" y2="658.7" stroke="#ff1414" stroke-width="1"/>
<text x="290.1" y="662.7" font-family="'Liberation Serif', serif" font-size="12" fill="#ff1414" stroke="#ff1414" stroke-width="0.3">15</text>
<line x1="279.5" y1="639.21" x2="283.5" y2="639.21" stroke="#ff1414" stroke-width="1"/>
<text x="290.1" y="643.21" font-family="'Liberation Serif', serif" font-size="12" fill="#ff1414" stroke="#ff1414" stroke-width="0.3">17</text>
<line x1="279.5" y1="619.73" x2="283.5" y2="619.73" stroke="#ff1414" stroke-width="1"/>
<text x="290.1" y="623.73" font-family="'Liberation Serif', serif" font-size="12" fill="#ff1414" stroke="#ff1414" stroke-width="0.3">19</text>
<line x1="279.5" y1="600.24" x2="283.5" y2="600.24" stroke="#ff1414" stroke-width="1"/>
<text x="290.1" y="604.24" font-family="'Liberation Serif', serif" font-size="12" fill="#ff1414" stroke="#ff1414" stroke-width="0.3">21</text>
<line x1="279.5" y1="580.75" x2="283.5" y2="580.75" stroke="#ff1414" stroke-width="1"/>
<text x="290.1" y="584.75" font-family="'Liberation Serif', serif" font-size="12" fill="#ff1414" stroke="#ff1414" stroke-width="0.3">23</text>
<line x1="279.5" y1="561.26" x2="283.5" y2="561.26" stroke="#ff1414" stroke-width="1"/>
<text x="290.1" y="565.26" font-family="'Liberation Serif', serif" font-size="12" fill="#ff1414" stroke="#ff1414" stroke-width="0.3">25</text>
<line x1="279.5" y1="541.77" x2="283.5" y2="541.77" stroke="#ff1414" stroke-width="1"/>
<text x="290.1" y="545.77" font-family="'Liberation Serif', serif" font-size="12" fill="#ff1414" stroke="#ff1414" stroke-width="0.3">27</text>
<line x1="279.5" y1="522.29" x2="283.5" y2="522.29" stroke="#ff1414" stroke-width="1"/>
<text x="290.1" y="526.29" font-family="'Liberation Serif', serif" font-size="12" fill="#ff1414" stroke="#ff1414" stroke-width="0.3">29</text>
<line x1="279.5" y1="502.8" x2="283.5" y2="502.8" stroke="#ff1414" stroke-width="1"/>
<text x="290.1" y="506.8" font-family="'Liberation Serif', serif" font-size="12" fill="#ff1414" stroke="#ff1414" stroke-width="0.3">31</text>
<text x="16.3" y="580.2" font-family="'Liberation Serif', serif" font-size="12.5" fill="#3030ff" text-anchor="middle" font-weight="bold" transform="rotate(-90 16.3 580.2)" textLength="155" lengthAdjust="spacingAndGlyphs">Compressive strength (MPa)</text>
<text x="319.3" y="580.1" font-family="'Liberation Serif', serif" font-size="12.5" fill="#ff1414" text-anchor="middle" font-weight="bold" transform="rotate(-90 319.3 580.1)" textLength="85.4" lengthAdjust="spacingAndGlyphs">Flow value (cm)</text>
<text x="168.85" y="704" font-family="'Liberation Serif', serif" font-size="12.5" fill="#000" text-anchor="middle" font-weight="bold" textLength="134.3" lengthAdjust="spacingAndGlyphs">Molecule weight (kg/mol)</text>
<text x="1.6" y="484.7" font-family="'Liberation Serif', serif" font-size="17.6" fill="#000" font-weight="bold">e)</text>
<line x1="462.46" y1="501.3" x2="462.46" y2="656.7" stroke="#efefef" stroke-width="1"/>
<line x1="507.42" y1="501.3" x2="507.42" y2="656.7" stroke="#efefef" stroke-width="1"/>
<line x1="552.38" y1="501.3" x2="552.38" y2="656.7" stroke="#efefef" stroke-width="1"/>
<line x1="597.34" y1="501.3" x2="597.34" y2="656.7" stroke="#efefef" stroke-width="1"/>
<line x1="462" y1="502.3" x2="462" y2="650.7" stroke="#c4c4c4" stroke-width="1" stroke-dasharray="3 2.5"/>
<line x1="492.9" y1="502.3" x2="492.9" y2="650.7" stroke="#c4c4c4" stroke-width="1" stroke-dasharray="3 2.5"/>
<line x1="511.6" y1="502.3" x2="511.6" y2="650.7" stroke="#c4c4c4" stroke-width="1" stroke-dasharray="3 2.5"/>
<line x1="556" y1="502.3" x2="556" y2="650.7" stroke="#c4c4c4" stroke-width="1" stroke-dasharray="3 2.5"/>
<line x1="596.6" y1="502.3" x2="596.6" y2="650.7" stroke="#c4c4c4" stroke-width="1" stroke-dasharray="3 2.5"/>
<text x="460.8" y="666.7" font-family="'Liberation Sans', sans-serif" font-size="9.6" fill="#2e2e2e" text-anchor="middle">10k</text>
<text x="495.5" y="666.7" font-family="'Liberation Sans', sans-serif" font-size="9.6" fill="#2e2e2e" text-anchor="middle">17k</text>
<text x="514.8" y="666.7" font-family="'Liberation Sans', sans-serif" font-size="9.6" fill="#2e2e2e" text-anchor="middle">21k</text>
<text x="559" y="666.7" font-family="'Liberation Sans', sans-serif" font-size="9.6" fill="#2e2e2e" text-anchor="middle">31k</text>
<text x="598.3" y="666.7" font-family="'Liberation Sans', sans-serif" font-size="9.6" fill="#2e2e2e" text-anchor="middle">40k</text>
<g fill="none" stroke="#52a3f7" stroke-width="1.2">
<circle cx="462.6" cy="536" r="4.5"/>
<circle cx="462.6" cy="559" r="4.5"/>
<circle cx="462.6" cy="567.2" r="4.5"/>
<circle cx="462.6" cy="626" r="4.5"/>
<circle cx="462.6" cy="637.4" r="4.5"/>
<circle cx="462.6" cy="644" r="4.5"/>
<circle cx="462.6" cy="650.5" r="4.5"/>
<circle cx="462.6" cy="576" r="4.5"/>
<circle cx="462.6" cy="615" r="4.5"/>
<circle cx="462.6" cy="580.4" r="4.5"/>
<circle cx="462.6" cy="587.62" r="4.5"/>
<circle cx="462.6" cy="592.05" r="4.5"/>
<circle cx="462.6" cy="597.06" r="4.5"/>
<circle cx="462.6" cy="602.45" r="4.5"/>
<circle cx="462.6" cy="604.15" r="4.5"/>
<circle cx="462.6" cy="608.41" r="4.5"/>
<circle cx="493.5" cy="528.8" r="4.5"/>
<circle cx="493.5" cy="537" r="4.5"/>
<circle cx="493.5" cy="562.3" r="4.5"/>
<circle cx="493.5" cy="577" r="4.5"/>
<circle cx="493.5" cy="635.8" r="4.5"/>
<circle cx="493.5" cy="646.4" r="4.5"/>
<circle cx="493.5" cy="650.5" r="4.5"/>
<circle cx="493.5" cy="578" r="4.5"/>
<circle cx="493.5" cy="620" r="4.5"/>
<circle cx="493.5" cy="581.49" r="4.5"/>
<circle cx="493.5" cy="587.33" r="4.5"/>
<circle cx="493.5" cy="594.39" r="4.5"/>
<circle cx="493.5" cy="599.94" r="4.5"/>
<circle cx="493.5" cy="602.42" r="4.5"/>
<circle cx="493.5" cy="607.47" r="4.5"/>
<circle cx="493.5" cy="614.87" r="4.5"/>
<circle cx="512" cy="540" r="4.5"/>
<circle cx="512" cy="572" r="4.5"/>
<circle cx="512" cy="542.7" r="4.5"/>
<circle cx="512" cy="545.18" r="4.5"/>
<circle cx="512" cy="549.17" r="4.5"/>
<circle cx="512" cy="552.75" r="4.5"/>
<circle cx="512" cy="553.83" r="4.5"/>
<circle cx="512" cy="556.23" r="4.5"/>
<circle cx="512" cy="559.94" r="4.5"/>
<circle cx="512" cy="563.06" r="4.5"/>
<circle cx="512" cy="566.66" r="4.5"/>
<circle cx="512" cy="568.3" r="4.5"/>
<circle cx="512" cy="634" r="4.5"/>
<circle cx="512" cy="651.3" r="4.5"/>
<circle cx="512" cy="636.44" r="4.5"/>
<circle cx="512" cy="638.26" r="4.5"/>
<circle cx="512" cy="639.78" r="4.5"/>
<circle cx="512" cy="641.18" r="4.5"/>
<circle cx="512" cy="644.42" r="4.5"/>
<circle cx="512" cy="645.21" r="4.5"/>
<circle cx="512" cy="648.01" r="4.5"/>
<circle cx="512" cy="648.91" r="4.5"/>
<circle cx="556.6" cy="554" r="4.5"/>
<circle cx="556.6" cy="563" r="4.5"/>
<circle cx="556.6" cy="571.3" r="4.5"/>
<circle cx="556.6" cy="578.6" r="4.5"/>
<circle cx="556.6" cy="622.7" r="4.5"/>
<circle cx="556.6" cy="632.5" r="4.5"/>
<circle cx="556.6" cy="639" r="4.5"/>
<circle cx="556.6" cy="645.6" r="4.5"/>
<circle cx="556.6" cy="640.92" r="4.5"/>
<circle cx="556.6" cy="644.04" r="4.5"/>
<circle cx="556.6" cy="585" r="4.5"/>
<circle cx="556.6" cy="610" r="4.5"/>
<circle cx="556.6" cy="591.45" r="4.5"/>
<circle cx="556.6" cy="594.7" r="4.5"/>
<circle cx="556.6" cy="597.97" r="4.5"/>
<circle cx="556.6" cy="604.88" r="4.5"/>
<circle cx="597.1" cy="541.9" r="4.5"/>
<circle cx="597.1" cy="564" r="4.5"/>
<circle cx="597.1" cy="575.3" r="4.5"/>
<circle cx="597.1" cy="614.5" r="4.5"/>
<circle cx="597.1" cy="626" r="4.5"/>
<circle cx="597.1" cy="640.7" r="4.5"/>
<circle cx="597.1" cy="647.2" r="4.5"/>
<circle cx="597.1" cy="653" r="4.5"/>
<circle cx="597.1" cy="585" r="4.5"/>
<circle cx="597.1" cy="610" r="4.5"/>
<circle cx="597.1" cy="591.89" r="4.5"/>
<circle cx="597.1" cy="593.91" r="4.5"/>
<circle cx="597.1" cy="601.11" r="4.5"/>
<circle cx="597.1" cy="606.79" r="4.5"/>
</g>
<g fill="none" stroke="#f01818" stroke-width="1.2">
<circle cx="462.6" cy="540.2" r="4.5"/>
<circle cx="462.6" cy="545" r="4.5"/>
<circle cx="462.6" cy="550" r="4.5"/>
<circle cx="462.6" cy="576" r="4.5"/>
<circle cx="462.6" cy="615.4" r="4.5"/>
<circle cx="462.6" cy="577.7" r="4.5"/>
<circle cx="462.6" cy="580.97" r="4.5"/>
<circle cx="462.6" cy="583.79" r="4.5"/>
<circle cx="462.6" cy="586.83" r="4.5"/>
<circle cx="462.6" cy="588.8" r="4.5"/>
<circle cx="462.6" cy="591.1" r="4.5"/>
<circle cx="462.6" cy="593.82" r="4.5"/>
<circle cx="462.6" cy="595.61" r="4.5"/>
<circle cx="462.6" cy="598.28" r="4.5"/>
<circle cx="462.6" cy="599.6" r="4.5"/>
<circle cx="462.6" cy="603.71" r="4.5"/>
<circle cx="462.6" cy="604.96" r="4.5"/>
<circle cx="462.6" cy="608.94" r="4.5"/>
<circle cx="462.6" cy="610.8" r="4.5"/>
<circle cx="462.6" cy="612.5" r="4.5"/>
<circle cx="493.5" cy="546.8" r="4.5"/>
<circle cx="493.5" cy="557.4" r="4.5"/>
<circle cx="493.5" cy="549.65" r="4.5"/>
<circle cx="493.5" cy="551.83" r="4.5"/>
<circle cx="493.5" cy="554.09" r="4.5"/>
<circle cx="493.5" cy="577.8" r="4.5"/>
<circle cx="493.5" cy="621" r="4.5"/>
<circle cx="493.5" cy="580.57" r="4.5"/>
<circle cx="493.5" cy="581.76" r="4.5"/>
<circle cx="493.5" cy="584.97" r="4.5"/>
<circle cx="493.5" cy="587.87" r="4.5"/>
<circle cx="493.5" cy="591.56" r="4.5"/>
<circle cx="493.5" cy="593.38" r="4.5"/>
<circle cx="493.5" cy="596.47" r="4.5"/>
<circle cx="493.5" cy="598.07" r="4.5"/>
<circle cx="493.5" cy="600.06" r="4.5"/>
<circle cx="493.5" cy="602.63" r="4.5"/>
<circle cx="493.5" cy="606.81" r="4.5"/>
<circle cx="493.5" cy="608.76" r="4.5"/>
<circle cx="493.5" cy="610.39" r="4.5"/>
<circle cx="493.5" cy="612.28" r="4.5"/>
<circle cx="493.5" cy="615.91" r="4.5"/>
<circle cx="493.5" cy="618.86" r="4.5"/>
<circle cx="512" cy="525.5" r="4.5"/>
<circle cx="512" cy="528" r="4.5"/>
<circle cx="512" cy="557.4" r="4.5"/>
<circle cx="512" cy="529.47" r="4.5"/>
<circle cx="512" cy="532.38" r="4.5"/>
<circle cx="512" cy="533.52" r="4.5"/>
<circle cx="512" cy="536.64" r="4.5"/>
<circle cx="512" cy="537.79" r="4.5"/>
<circle cx="512" cy="539.21" r="4.5"/>
<circle cx="512" cy="541.23" r="4.5"/>
<circle cx="512" cy="543.53" r="4.5"/>
<circle cx="512" cy="545.93" r="4.5"/>
<circle cx="512" cy="548.39" r="4.5"/>
<circle cx="512" cy="548.94" r="4.5"/>
<circle cx="512" cy="551.33" r="4.5"/>
<circle cx="512" cy="552.97" r="4.5"/>
<circle cx="512" cy="556.28" r="4.5"/>
<circle cx="512" cy="572" r="4.5"/>
<circle cx="512" cy="626.8" r="4.5"/>
<circle cx="512" cy="573.38" r="4.5"/>
<circle cx="512" cy="575.24" r="4.5"/>
<circle cx="512" cy="577.29" r="4.5"/>
<circle cx="512" cy="579.92" r="4.5"/>
<circle cx="512" cy="582.88" r="4.5"/>
<circle cx="512" cy="584.88" r="4.5"/>
<circle cx="512" cy="586.63" r="4.5"/>
<circle cx="512" cy="589.15" r="4.5"/>
<circle cx="512" cy="591.06" r="4.5"/>
<circle cx="512" cy="591.98" r="4.5"/>
<circle cx="512" cy="593.75" r="4.5"/>
<circle cx="512" cy="597.15" r="4.5"/>
<circle cx="512" cy="598.84" r="4.5"/>
<circle cx="512" cy="599.56" r="4.5"/>
<circle cx="512" cy="602.74" r="4.5"/>
<circle cx="512" cy="604.25" r="4.5"/>
<circle cx="512" cy="606.27" r="4.5"/>
<circle cx="512" cy="608.23" r="4.5"/>
<circle cx="512" cy="609.96" r="4.5"/>
<circle cx="512" cy="611.68" r="4.5"/>
<circle cx="512" cy="614.22" r="4.5"/>
<circle cx="512" cy="616.38" r="4.5"/>
<circle cx="512" cy="619.51" r="4.5"/>
<circle cx="512" cy="620.02" r="4.5"/>
<circle cx="512" cy="623.59" r="4.5"/>
<circle cx="512" cy="624.24" r="4.5"/>
<circle cx="556.6" cy="540.2" r="4.5"/>
<circle cx="556.6" cy="546" r="4.5"/>
<circle cx="556.6" cy="551.7" r="4.5"/>
<circle cx="556.6" cy="580.2" r="4.5"/>
<circle cx="556.6" cy="612.9" r="4.5"/>
<circle cx="556.6" cy="582.43" r="4.5"/>
<circle cx="556.6" cy="586.18" r="4.5"/>
<circle cx="556.6" cy="587.05" r="4.5"/>
<circle cx="556.6" cy="589.95" r="4.5"/>
<circle cx="556.6" cy="593.68" r="4.5"/>
<circle cx="556.6" cy="594.23" r="4.5"/>
<circle cx="556.6" cy="597.61" r="4.5"/>
<circle cx="556.6" cy="601.03" r="4.5"/>
<circle cx="556.6" cy="603.44" r="4.5"/>
<circle cx="556.6" cy="604.31" r="4.5"/>
<circle cx="556.6" cy="606.82" r="4.5"/>
<circle cx="556.6" cy="609.39" r="4.5"/>
<circle cx="597.1" cy="542.7" r="4.5"/>
<circle cx="597.1" cy="545" r="4.5"/>
<circle cx="597.1" cy="552.5" r="4.5"/>
<circle cx="597.1" cy="558.2" r="4.5"/>
<circle cx="597.1" cy="578.6" r="4.5"/>
<circle cx="597.1" cy="585.1" r="4.5"/>
<circle cx="597.1" cy="612.1" r="4.5"/>
<circle cx="597.1" cy="587.2" r="4.5"/>
<circle cx="597.1" cy="589.51" r="4.5"/>
<circle cx="597.1" cy="593.47" r="4.5"/>
<circle cx="597.1" cy="595.18" r="4.5"/>
<circle cx="597.1" cy="596.85" r="4.5"/>
<circle cx="597.1" cy="600.31" r="4.5"/>
<circle cx="597.1" cy="601.88" r="4.5"/>
<circle cx="597.1" cy="604.24" r="4.5"/>
<circle cx="597.1" cy="606.09" r="4.5"/>
<circle cx="597.1" cy="610.21" r="4.5"/>
</g>
<g fill="none" stroke="#52a3f7" stroke-width="0.7">
<circle cx="462.6" cy="536" r="4.5"/>
<circle cx="462.6" cy="576" r="4.5"/>
<circle cx="462.6" cy="604.15" r="4.5"/>
<circle cx="493.5" cy="646.4" r="4.5"/>
<circle cx="493.5" cy="599.94" r="4.5"/>
<circle cx="512" cy="545.18" r="4.5"/>
<circle cx="512" cy="566.66" r="4.5"/>
<circle cx="512" cy="641.18" r="4.5"/>
<circle cx="556.6" cy="571.3" r="4.5"/>
<circle cx="556.6" cy="644.04" r="4.5"/>
<circle cx="597.1" cy="541.9" r="4.5"/>
<circle cx="597.1" cy="653" r="4.5"/>
</g>
<path d="M459.1 646.7L462 650.4L464.9 646.7L462 655.2Z" fill="#bdbdbd"/>
<path d="M490 646.7L492.9 650.4L495.8 646.7L492.9 655.2Z" fill="#bdbdbd"/>
<path d="M508.7 646.7L511.6 650.4L514.5 646.7L511.6 655.2Z" fill="#bdbdbd"/>
<path d="M553.1 646.7L556 650.4L558.9 646.7L556 655.2Z" fill="#bdbdbd"/>
<path d="M593.7 646.7L596.6 650.4L599.5 646.7L596.6 655.2Z" fill="#bdbdbd"/>
<line x1="417.5" y1="501.3" x2="642.3" y2="501.3" stroke="#5e5e5e" stroke-width="1.3"/>
<line x1="413.5" y1="656.7" x2="642.3" y2="656.7" stroke="#767676" stroke-width="1.8"/>
<line x1="417.5" y1="656.7" x2="417.5" y2="660.7" stroke="#444444" stroke-width="1"/>
<line x1="462.46" y1="656.7" x2="462.46" y2="660.7" stroke="#444444" stroke-width="1"/>
<line x1="507.42" y1="656.7" x2="507.42" y2="660.7" stroke="#444444" stroke-width="1"/>
<line x1="552.38" y1="656.7" x2="552.38" y2="660.7" stroke="#444444" stroke-width="1"/>
<line x1="597.34" y1="656.7" x2="597.34" y2="660.7" stroke="#444444" stroke-width="1"/>
<line x1="642.3" y1="656.7" x2="642.3" y2="660.7" stroke="#444444" stroke-width="1"/>
<text x="420.9" y="670.2" font-family="'Liberation Serif', serif" font-size="11.5" fill="#2e2e2e" text-anchor="end" transform="rotate(-45 420.9 670.2)" stroke="#2e2e2e" stroke-width="0.25">0</text>
<text x="465.86" y="670.2" font-family="'Liberation Serif', serif" font-size="11.5" fill="#2e2e2e" text-anchor="end" transform="rotate(-45 465.86 670.2)" stroke="#2e2e2e" stroke-width="0.25">10</text>
<text x="510.82" y="670.2" font-family="'Liberation Serif', serif" font-size="11.5" fill="#2e2e2e" text-anchor="end" transform="rotate(-45 510.82 670.2)" stroke="#2e2e2e" stroke-width="0.25">20</text>
<text x="555.78" y="670.2" font-family="'Liberation Serif', serif" font-size="11.5" fill="#2e2e2e" text-anchor="end" transform="rotate(-45 555.78 670.2)" stroke="#2e2e2e" stroke-width="0.25">30</text>
<text x="600.74" y="670.2" font-family="'Liberation Serif', serif" font-size="11.5" fill="#2e2e2e" text-anchor="end" transform="rotate(-45 600.74 670.2)" stroke="#2e2e2e" stroke-width="0.25">40</text>
<text x="645.7" y="670.2" font-family="'Liberation Serif', serif" font-size="11.5" fill="#2e2e2e" text-anchor="end" transform="rotate(-45 645.7 670.2)" stroke="#2e2e2e" stroke-width="0.25">50</text>
<line x1="417.5" y1="500.8" x2="417.5" y2="656.7" stroke="#4a4aff" stroke-width="1.25"/>
<line x1="413.5" y1="656.7" x2="417.5" y2="656.7" stroke="#4a4aff" stroke-width="1.2"/>
<text x="407.3" y="660.5" font-family="'Liberation Sans', sans-serif" font-size="10.6" fill="#3030ff" text-anchor="end">0</text>
<line x1="413.5" y1="634.5" x2="417.5" y2="634.5" stroke="#4a4aff" stroke-width="1.2"/>
<text x="407.3" y="638.3" font-family="'Liberation Sans', sans-serif" font-size="10.6" fill="#3030ff" text-anchor="end">10</text>
<line x1="413.5" y1="612.3" x2="417.5" y2="612.3" stroke="#4a4aff" stroke-width="1.2"/>
<text x="407.3" y="616.1" font-family="'Liberation Sans', sans-serif" font-size="10.6" fill="#3030ff" text-anchor="end">20</text>
<line x1="413.5" y1="590.1" x2="417.5" y2="590.1" stroke="#4a4aff" stroke-width="1.2"/>
<text x="407.3" y="593.9" font-family="'Liberation Sans', sans-serif" font-size="10.6" fill="#3030ff" text-anchor="end">30</text>
<line x1="413.5" y1="567.9" x2="417.5" y2="567.9" stroke="#4a4aff" stroke-width="1.2"/>
<text x="407.3" y="571.7" font-family="'Liberation Sans', sans-serif" font-size="10.6" fill="#3030ff" text-anchor="end">40</text>
<line x1="413.5" y1="545.7" x2="417.5" y2="545.7" stroke="#4a4aff" stroke-width="1.2"/>
<text x="407.3" y="549.5" font-family="'Liberation Sans', sans-serif" font-size="10.6" fill="#3030ff" text-anchor="end">50</text>
<line x1="413.5" y1="523.5" x2="417.5" y2="523.5" stroke="#4a4aff" stroke-width="1.2"/>
<text x="407.3" y="527.3" font-family="'Liberation Sans', sans-serif" font-size="10.6" fill="#3030ff" text-anchor="end">60</text>
<line x1="413.5" y1="501.3" x2="417.5" y2="501.3" stroke="#4a4aff" stroke-width="1.2"/>
<text x="407.3" y="505.1" font-family="'Liberation Sans', sans-serif" font-size="10.6" fill="#3030ff" text-anchor="end">70</text>
<line x1="642.3" y1="500.8" x2="642.3" y2="656.7" stroke="#ff1414" stroke-width="1"/>
<line x1="642.3" y1="656.7" x2="646.3" y2="656.7" stroke="#ff1414" stroke-width="1"/>
<text x="652.9" y="660.7" font-family="'Liberation Serif', serif" font-size="12" fill="#ff1414" stroke="#ff1414" stroke-width="0.3">15</text>
<line x1="642.3" y1="637.28" x2="646.3" y2="637.28" stroke="#ff1414" stroke-width="1"/>
<text x="652.9" y="641.28" font-family="'Liberation Serif', serif" font-size="12" fill="#ff1414" stroke="#ff1414" stroke-width="0.3">17</text>
<line x1="642.3" y1="617.85" x2="646.3" y2="617.85" stroke="#ff1414" stroke-width="1"/>
<text x="652.9" y="621.85" font-family="'Liberation Serif', serif" font-size="12" fill="#ff1414" stroke="#ff1414" stroke-width="0.3">19</text>
<line x1="642.3" y1="598.43" x2="646.3" y2="598.43" stroke="#ff1414" stroke-width="1"/>
<text x="652.9" y="602.43" font-family="'Liberation Serif', serif" font-size="12" fill="#ff1414" stroke="#ff1414" stroke-width="0.3">21</text>
<line x1="642.3" y1="579" x2="646.3" y2="579" stroke="#ff1414" stroke-width="1"/>
<text x="652.9" y="583" font-family="'Liberation Serif', serif" font-size="12" fill="#ff1414" stroke="#ff1414" stroke-width="0.3">23</text>
<line x1="642.3" y1="559.58" x2="646.3" y2="559.58" stroke="#ff1414" stroke-width="1"/>
<text x="652.9" y="563.58" font-family="'Liberation Serif', serif" font-size="12" fill="#ff1414" stroke="#ff1414" stroke-width="0.3">25</text>
<line x1="642.3" y1="540.15" x2="646.3" y2="540.15" stroke="#ff1414" stroke-width="1"/>
<text x="652.9" y="544.15" font-family="'Liberation Serif', serif" font-size="12" fill="#ff1414" stroke="#ff1414" stroke-width="0.3">27</text>
<line x1="642.3" y1="520.73" x2="646.3" y2="520.73" stroke="#ff1414" stroke-width="1"/>
<text x="652.9" y="524.73" font-family="'Liberation Serif', serif" font-size="12" fill="#ff1414" stroke="#ff1414" stroke-width="0.3">29</text>
<line x1="642.3" y1="501.3" x2="646.3" y2="501.3" stroke="#ff1414" stroke-width="1"/>
<text x="652.9" y="505.3" font-family="'Liberation Serif', serif" font-size="12" fill="#ff1414" stroke="#ff1414" stroke-width="0.3">31</text>
<text x="647.1" y="675" font-family="'Liberation Serif', serif" font-size="12" fill="#000">k</text>
<text x="378.8" y="579.8" font-family="'Liberation Serif', serif" font-size="12.5" fill="#3030ff" text-anchor="middle" font-weight="bold" transform="rotate(-90 378.8 579.8)" textLength="155" lengthAdjust="spacingAndGlyphs">Compressive strength (MPa)</text>
<text x="682" y="579.6" font-family="'Liberation Serif', serif" font-size="12.5" fill="#ff1414" text-anchor="middle" font-weight="bold" transform="rotate(-90 682 579.6)" textLength="85.3" lengthAdjust="spacingAndGlyphs">Flow value (cm)</text>
<text x="532.2" y="702.5" font-family="'Liberation Serif', serif" font-size="12.5" fill="#000" text-anchor="middle" font-weight="bold" textLength="95.8" lengthAdjust="spacingAndGlyphs">Main chain length</text>
<text x="362.2" y="484.7" font-family="'Liberation Serif', serif" font-size="17.6" fill="#000" font-weight="bold">f)</text>
<line x1="287.2" y1="741.6" x2="287.2" y2="897.4" stroke="#efefef" stroke-width="1"/>
<line x1="342.3" y1="741.6" x2="342.3" y2="897.4" stroke="#efefef" stroke-width="1"/>
<line x1="397.4" y1="741.6" x2="397.4" y2="897.4" stroke="#efefef" stroke-width="1"/>
<line x1="287.3" y1="742.6" x2="287.3" y2="891.4" stroke="#c4c4c4" stroke-width="1" stroke-dasharray="3 2.5"/>
<line x1="364.6" y1="742.6" x2="364.6" y2="891.4" stroke="#c4c4c4" stroke-width="1" stroke-dasharray="3 2.5"/>
<line x1="397.7" y1="742.6" x2="397.7" y2="891.4" stroke="#c4c4c4" stroke-width="1" stroke-dasharray="3 2.5"/>
<text x="289.2" y="907.3" font-family="'Liberation Sans', sans-serif" font-size="9.6" fill="#2e2e2e" text-anchor="middle">1000</text>
<text x="366.3" y="907.3" font-family="'Liberation Sans', sans-serif" font-size="9.6" fill="#2e2e2e" text-anchor="middle">2400</text>
<text x="399.1" y="907.3" font-family="'Liberation Sans', sans-serif" font-size="9.6" fill="#2e2e2e" text-anchor="middle">3000</text>
<g fill="none" stroke="#52a3f7" stroke-width="1.2">
<circle cx="287.5" cy="780.7" r="4.5"/>
<circle cx="287.5" cy="804.7" r="4.5"/>
<circle cx="287.5" cy="815.7" r="4.5"/>
<circle cx="287.5" cy="808.48" r="4.5"/>
<circle cx="287.5" cy="810.53" r="4.5"/>
<circle cx="287.5" cy="814.05" r="4.5"/>
<circle cx="287.5" cy="820" r="4.5"/>
<circle cx="287.5" cy="855" r="4.5"/>
<circle cx="287.5" cy="822.86" r="4.5"/>
<circle cx="287.5" cy="828.8" r="4.5"/>
<circle cx="287.5" cy="834.89" r="4.5"/>
<circle cx="287.5" cy="842.06" r="4.5"/>
<circle cx="287.5" cy="847.04" r="4.5"/>
<circle cx="287.5" cy="849.49" r="4.5"/>
<circle cx="287.5" cy="866" r="4.5"/>
<circle cx="287.5" cy="876" r="4.5"/>
<circle cx="287.5" cy="894.5" r="4.5"/>
<circle cx="287.5" cy="878.39" r="4.5"/>
<circle cx="287.5" cy="881.97" r="4.5"/>
<circle cx="287.5" cy="885.23" r="4.5"/>
<circle cx="287.5" cy="889.52" r="4.5"/>
<circle cx="287.5" cy="890.54" r="4.5"/>
<circle cx="364.6" cy="785" r="4.5"/>
<circle cx="364.6" cy="815" r="4.5"/>
<circle cx="364.6" cy="786.88" r="4.5"/>
<circle cx="364.6" cy="789.91" r="4.5"/>
<circle cx="364.6" cy="794" r="4.5"/>
<circle cx="364.6" cy="797.57" r="4.5"/>
<circle cx="364.6" cy="799.86" r="4.5"/>
<circle cx="364.6" cy="802.28" r="4.5"/>
<circle cx="364.6" cy="805.78" r="4.5"/>
<circle cx="364.6" cy="809.32" r="4.5"/>
<circle cx="364.6" cy="812.47" r="4.5"/>
<circle cx="364.6" cy="872.6" r="4.5"/>
<circle cx="364.6" cy="893.4" r="4.5"/>
<circle cx="364.6" cy="875.78" r="4.5"/>
<circle cx="364.6" cy="878.61" r="4.5"/>
<circle cx="364.6" cy="880.78" r="4.5"/>
<circle cx="364.6" cy="882.11" r="4.5"/>
<circle cx="364.6" cy="886.4" r="4.5"/>
<circle cx="364.6" cy="887.72" r="4.5"/>
<circle cx="364.6" cy="890.96" r="4.5"/>
<circle cx="397.7" cy="768.6" r="4.5"/>
<circle cx="397.7" cy="770.8" r="4.5"/>
<circle cx="397.7" cy="795" r="4.5"/>
<circle cx="397.7" cy="818" r="4.5"/>
<circle cx="397.7" cy="798.59" r="4.5"/>
<circle cx="397.7" cy="801.9" r="4.5"/>
<circle cx="397.7" cy="802.6" r="4.5"/>
<circle cx="397.7" cy="806.75" r="4.5"/>
<circle cx="397.7" cy="809.69" r="4.5"/>
<circle cx="397.7" cy="811.52" r="4.5"/>
<circle cx="397.7" cy="814.79" r="4.5"/>
<circle cx="397.7" cy="820" r="4.5"/>
<circle cx="397.7" cy="860" r="4.5"/>
<circle cx="397.7" cy="823.39" r="4.5"/>
<circle cx="397.7" cy="828.67" r="4.5"/>
<circle cx="397.7" cy="833.9" r="4.5"/>
<circle cx="397.7" cy="840.45" r="4.5"/>
<circle cx="397.7" cy="845.68" r="4.5"/>
<circle cx="397.7" cy="848.67" r="4.5"/>
<circle cx="397.7" cy="852.8" r="4.5"/>
<circle cx="397.7" cy="874.8" r="4.5"/>
<circle cx="397.7" cy="892.3" r="4.5"/>
<circle cx="397.7" cy="876.91" r="4.5"/>
<circle cx="397.7" cy="880.2" r="4.5"/>
<circle cx="397.7" cy="881.59" r="4.5"/>
<circle cx="397.7" cy="884.38" r="4.5"/>
<circle cx="397.7" cy="886.63" r="4.5"/>
<circle cx="397.7" cy="890.46" r="4.5"/>
</g>
<g fill="none" stroke="#f01818" stroke-width="1.2">
<circle cx="287.5" cy="782.8" r="4.5"/>
<circle cx="287.5" cy="801.5" r="4.5"/>
<circle cx="287.5" cy="786.2" r="4.5"/>
<circle cx="287.5" cy="788.72" r="4.5"/>
<circle cx="287.5" cy="791.59" r="4.5"/>
<circle cx="287.5" cy="794.14" r="4.5"/>
<circle cx="287.5" cy="796.42" r="4.5"/>
<circle cx="287.5" cy="798.41" r="4.5"/>
<circle cx="287.5" cy="817.9" r="4.5"/>
<circle cx="287.5" cy="858.4" r="4.5"/>
<circle cx="287.5" cy="820.02" r="4.5"/>
<circle cx="287.5" cy="822.65" r="4.5"/>
<circle cx="287.5" cy="826.14" r="4.5"/>
<circle cx="287.5" cy="827.07" r="4.5"/>
<circle cx="287.5" cy="829.87" r="4.5"/>
<circle cx="287.5" cy="833.66" r="4.5"/>
<circle cx="287.5" cy="835.04" r="4.5"/>
<circle cx="287.5" cy="837.16" r="4.5"/>
<circle cx="287.5" cy="839.62" r="4.5"/>
<circle cx="287.5" cy="843.33" r="4.5"/>
<circle cx="287.5" cy="845.35" r="4.5"/>
<circle cx="287.5" cy="849.37" r="4.5"/>
<circle cx="287.5" cy="851.68" r="4.5"/>
<circle cx="287.5" cy="854.45" r="4.5"/>
<circle cx="287.5" cy="855.33" r="4.5"/>
<circle cx="364.6" cy="766.4" r="4.5"/>
<circle cx="364.6" cy="769.7" r="4.5"/>
<circle cx="364.6" cy="777.4" r="4.5"/>
<circle cx="364.6" cy="791.6" r="4.5"/>
<circle cx="364.6" cy="779.2" r="4.5"/>
<circle cx="364.6" cy="781.89" r="4.5"/>
<circle cx="364.6" cy="782.94" r="4.5"/>
<circle cx="364.6" cy="785.05" r="4.5"/>
<circle cx="364.6" cy="787.08" r="4.5"/>
<circle cx="364.6" cy="788.94" r="4.5"/>
<circle cx="364.6" cy="813.5" r="4.5"/>
<circle cx="364.6" cy="868.2" r="4.5"/>
<circle cx="364.6" cy="816.23" r="4.5"/>
<circle cx="364.6" cy="817.69" r="4.5"/>
<circle cx="364.6" cy="819.26" r="4.5"/>
<circle cx="364.6" cy="821.41" r="4.5"/>
<circle cx="364.6" cy="824.53" r="4.5"/>
<circle cx="364.6" cy="825.67" r="4.5"/>
<circle cx="364.6" cy="827.19" r="4.5"/>
<circle cx="364.6" cy="830.27" r="4.5"/>
<circle cx="364.6" cy="832.01" r="4.5"/>
<circle cx="364.6" cy="834.65" r="4.5"/>
<circle cx="364.6" cy="835.06" r="4.5"/>
<circle cx="364.6" cy="837.77" r="4.5"/>
<circle cx="364.6" cy="840.42" r="4.5"/>
<circle cx="364.6" cy="842.48" r="4.5"/>
<circle cx="364.6" cy="844.64" r="4.5"/>
<circle cx="364.6" cy="845.08" r="4.5"/>
<circle cx="364.6" cy="847.56" r="4.5"/>
<circle cx="364.6" cy="849.27" r="4.5"/>
<circle cx="364.6" cy="851.43" r="4.5"/>
<circle cx="364.6" cy="854.88" r="4.5"/>
<circle cx="364.6" cy="856.2" r="4.5"/>
<circle cx="364.6" cy="858.85" r="4.5"/>
<circle cx="364.6" cy="859.86" r="4.5"/>
<circle cx="364.6" cy="862.79" r="4.5"/>
<circle cx="364.6" cy="864.06" r="4.5"/>
<circle cx="364.6" cy="865.74" r="4.5"/>
<circle cx="397.7" cy="770.8" r="4.5"/>
<circle cx="397.7" cy="779.6" r="4.5"/>
<circle cx="397.7" cy="799.3" r="4.5"/>
<circle cx="397.7" cy="782.17" r="4.5"/>
<circle cx="397.7" cy="783.56" r="4.5"/>
<circle cx="397.7" cy="786.1" r="4.5"/>
<circle cx="397.7" cy="789.22" r="4.5"/>
<circle cx="397.7" cy="792.02" r="4.5"/>
<circle cx="397.7" cy="794.68" r="4.5"/>
<circle cx="397.7" cy="795.93" r="4.5"/>
<circle cx="397.7" cy="817.9" r="4.5"/>
<circle cx="397.7" cy="863.9" r="4.5"/>
<circle cx="397.7" cy="819.68" r="4.5"/>
<circle cx="397.7" cy="823.46" r="4.5"/>
<circle cx="397.7" cy="825.36" r="4.5"/>
<circle cx="397.7" cy="827.62" r="4.5"/>
<circle cx="397.7" cy="830.24" r="4.5"/>
<circle cx="397.7" cy="834.28" r="4.5"/>
<circle cx="397.7" cy="835.36" r="4.5"/>
<circle cx="397.7" cy="838.5" r="4.5"/>
<circle cx="397.7" cy="840.57" r="4.5"/>
<circle cx="397.7" cy="843.26" r="4.5"/>
<circle cx="397.7" cy="846.85" r="4.5"/>
<circle cx="397.7" cy="849.71" r="4.5"/>
<circle cx="397.7" cy="850.81" r="4.5"/>
<circle cx="397.7" cy="852.98" r="4.5"/>
<circle cx="397.7" cy="856.76" r="4.5"/>
<circle cx="397.7" cy="858.11" r="4.5"/>
<circle cx="397.7" cy="860.21" r="4.5"/>
</g>
<g fill="none" stroke="#52a3f7" stroke-width="0.7">
<circle cx="287.5" cy="780.7" r="4.5"/>
<circle cx="287.5" cy="855" r="4.5"/>
<circle cx="287.5" cy="866" r="4.5"/>
<circle cx="287.5" cy="890.54" r="4.5"/>
<circle cx="364.6" cy="799.86" r="4.5"/>
<circle cx="364.6" cy="875.78" r="4.5"/>
<circle cx="397.7" cy="768.6" r="4.5"/>
<circle cx="397.7" cy="806.75" r="4.5"/>
<circle cx="397.7" cy="828.67" r="4.5"/>
<circle cx="397.7" cy="892.3" r="4.5"/>
</g>
<path d="M284.4 887.4L287.3 891.1L290.2 887.4L287.3 895.9Z" fill="#bdbdbd"/>
<path d="M361.7 887.4L364.6 891.1L367.5 887.4L364.6 895.9Z" fill="#bdbdbd"/>
<path d="M394.8 887.4L397.7 891.1L400.6 887.4L397.7 895.9Z" fill="#bdbdbd"/>
<line x1="232.1" y1="741.6" x2="452.5" y2="741.6" stroke="#5e5e5e" stroke-width="1.3"/>
<line x1="228.1" y1="897.4" x2="452.5" y2="897.4" stroke="#767676" stroke-width="1.8"/>
<line x1="232.1" y1="897.4" x2="232.1" y2="901.4" stroke="#444444" stroke-width="1"/>
<line x1="287.2" y1="897.4" x2="287.2" y2="901.4" stroke="#444444" stroke-width="1"/>
<line x1="342.3" y1="897.4" x2="342.3" y2="901.4" stroke="#444444" stroke-width="1"/>
<line x1="397.4" y1="897.4" x2="397.4" y2="901.4" stroke="#444444" stroke-width="1"/>
<line x1="452.5" y1="897.4" x2="452.5" y2="901.4" stroke="#444444" stroke-width="1"/>
<text x="235.5" y="910.9" font-family="'Liberation Serif', serif" font-size="11.5" fill="#2e2e2e" text-anchor="end" transform="rotate(-45 235.5 910.9)" stroke="#2e2e2e" stroke-width="0.25">0</text>
<text x="290.6" y="910.9" font-family="'Liberation Serif', serif" font-size="11.5" fill="#2e2e2e" text-anchor="end" transform="rotate(-45 290.6 910.9)" stroke="#2e2e2e" stroke-width="0.25">1000</text>
<text x="345.7" y="910.9" font-family="'Liberation Serif', serif" font-size="11.5" fill="#2e2e2e" text-anchor="end" transform="rotate(-45 345.7 910.9)" stroke="#2e2e2e" stroke-width="0.25">2000</text>
<text x="400.8" y="910.9" font-family="'Liberation Serif', serif" font-size="11.5" fill="#2e2e2e" text-anchor="end" transform="rotate(-45 400.8 910.9)" stroke="#2e2e2e" stroke-width="0.25">3000</text>
<text x="455.9" y="910.9" font-family="'Liberation Serif', serif" font-size="11.5" fill="#2e2e2e" text-anchor="end" transform="rotate(-45 455.9 910.9)" stroke="#2e2e2e" stroke-width="0.25">4000</text>
<line x1="232.1" y1="741.1" x2="232.1" y2="897.4" stroke="#4a4aff" stroke-width="1.25"/>
<line x1="228.1" y1="897.4" x2="232.1" y2="897.4" stroke="#4a4aff" stroke-width="1.2"/>
<text x="221.9" y="901.2" font-family="'Liberation Sans', sans-serif" font-size="10.6" fill="#3030ff" text-anchor="end">0</text>
<line x1="228.1" y1="875.14" x2="232.1" y2="875.14" stroke="#4a4aff" stroke-width="1.2"/>
<text x="221.9" y="878.94" font-family="'Liberation Sans', sans-serif" font-size="10.6" fill="#3030ff" text-anchor="end">10</text>
<line x1="228.1" y1="852.89" x2="232.1" y2="852.89" stroke="#4a4aff" stroke-width="1.2"/>
<text x="221.9" y="856.69" font-family="'Liberation Sans', sans-serif" font-size="10.6" fill="#3030ff" text-anchor="end">20</text>
<line x1="228.1" y1="830.63" x2="232.1" y2="830.63" stroke="#4a4aff" stroke-width="1.2"/>
<text x="221.9" y="834.43" font-family="'Liberation Sans', sans-serif" font-size="10.6" fill="#3030ff" text-anchor="end">30</text>
<line x1="228.1" y1="808.37" x2="232.1" y2="808.37" stroke="#4a4aff" stroke-width="1.2"/>
<text x="221.9" y="812.17" font-family="'Liberation Sans', sans-serif" font-size="10.6" fill="#3030ff" text-anchor="end">40</text>
<line x1="228.1" y1="786.11" x2="232.1" y2="786.11" stroke="#4a4aff" stroke-width="1.2"/>
<text x="221.9" y="789.91" font-family="'Liberation Sans', sans-serif" font-size="10.6" fill="#3030ff" text-anchor="end">50</text>
<line x1="228.1" y1="763.86" x2="232.1" y2="763.86" stroke="#4a4aff" stroke-width="1.2"/>
<text x="221.9" y="767.66" font-family="'Liberation Sans', sans-serif" font-size="10.6" fill="#3030ff" text-anchor="end">60</text>
<line x1="228.1" y1="741.6" x2="232.1" y2="741.6" stroke="#4a4aff" stroke-width="1.2"/>
<text x="221.9" y="745.4" font-family="'Liberation Sans', sans-serif" font-size="10.6" fill="#3030ff" text-anchor="end">70</text>
<line x1="452.5" y1="741.1" x2="452.5" y2="897.4" stroke="#ff1414" stroke-width="1"/>
<line x1="452.5" y1="897.4" x2="456.5" y2="897.4" stroke="#ff1414" stroke-width="1"/>
<text x="463.1" y="901.4" font-family="'Liberation Serif', serif" font-size="12" fill="#ff1414" stroke="#ff1414" stroke-width="0.3">15</text>
<line x1="452.5" y1="877.92" x2="456.5" y2="877.92" stroke="#ff1414" stroke-width="1"/>
<text x="463.1" y="881.92" font-family="'Liberation Serif', serif" font-size="12" fill="#ff1414" stroke="#ff1414" stroke-width="0.3">17</text>
<line x1="452.5" y1="858.45" x2="456.5" y2="858.45" stroke="#ff1414" stroke-width="1"/>
<text x="463.1" y="862.45" font-family="'Liberation Serif', serif" font-size="12" fill="#ff1414" stroke="#ff1414" stroke-width="0.3">19</text>
<line x1="452.5" y1="838.98" x2="456.5" y2="838.98" stroke="#ff1414" stroke-width="1"/>
<text x="463.1" y="842.98" font-family="'Liberation Serif', serif" font-size="12" fill="#ff1414" stroke="#ff1414" stroke-width="0.3">21</text>
<line x1="452.5" y1="819.5" x2="456.5" y2="819.5" stroke="#ff1414" stroke-width="1"/>
<text x="463.1" y="823.5" font-family="'Liberation Serif', serif" font-size="12" fill="#ff1414" stroke="#ff1414" stroke-width="0.3">23</text>
<line x1="452.5" y1="800.02" x2="456.5" y2="800.02" stroke="#ff1414" stroke-width="1"/>
<text x="463.1" y="804.02" font-family="'Liberation Serif', serif" font-size="12" fill="#ff1414" stroke="#ff1414" stroke-width="0.3">25</text>
<line x1="452.5" y1="780.55" x2="456.5" y2="780.55" stroke="#ff1414" stroke-width="1"/>
<text x="463.1" y="784.55" font-family="'Liberation Serif', serif" font-size="12" fill="#ff1414" stroke="#ff1414" stroke-width="0.3">27</text>
<line x1="452.5" y1="761.08" x2="456.5" y2="761.08" stroke="#ff1414" stroke-width="1"/>
<text x="463.1" y="765.08" font-family="'Liberation Serif', serif" font-size="12" fill="#ff1414" stroke="#ff1414" stroke-width="0.3">29</text>
<line x1="452.5" y1="741.6" x2="456.5" y2="741.6" stroke="#ff1414" stroke-width="1"/>
<text x="463.1" y="745.6" font-family="'Liberation Serif', serif" font-size="12" fill="#ff1414" stroke="#ff1414" stroke-width="0.3">31</text>
<text x="195" y="819" font-family="'Liberation Serif', serif" font-size="12.5" fill="#3030ff" text-anchor="middle" font-weight="bold" transform="rotate(-90 195 819)" textLength="154" lengthAdjust="spacingAndGlyphs">Compressive strength (MPa)</text>
<text x="497.5" y="818.8" font-family="'Liberation Serif', serif" font-size="12.5" fill="#ff1414" text-anchor="middle" font-weight="bold" transform="rotate(-90 497.5 818.8)" textLength="85.5" lengthAdjust="spacingAndGlyphs">Flow value (cm)</text>
<text x="348.55" y="944.5" font-family="'Liberation Serif', serif" font-size="12.5" fill="#000" text-anchor="middle" font-weight="bold" textLength="136.1" lengthAdjust="spacingAndGlyphs">Side chain  length (g/mol)</text>
<text x="158.1" y="751.2" font-family="'Liberation Serif', serif" font-size="17.6" fill="#000" font-weight="bold">g)</text>
</svg></body></html>
